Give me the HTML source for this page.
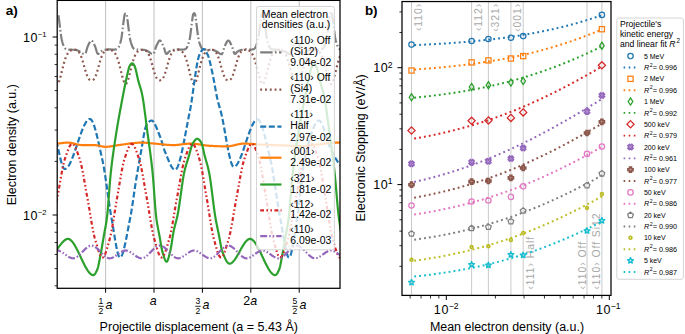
<!DOCTYPE html>
<html><head><meta charset="utf-8"><style>
html,body{margin:0;padding:0;background:#fff;}
body{width:685px;height:334px;overflow:hidden;position:relative;font-family:"Liberation Sans", sans-serif;}
</style></head><body>
<svg width="685" height="334" viewBox="0 0 685 334" style="position:absolute;left:0;top:0">
<defs><clipPath id="ca"><rect x="57.20" y="0.40" width="282.80" height="287.90"/></clipPath>
<clipPath id="cb"><rect x="402.00" y="1.55" width="209.00" height="293.85"/></clipPath></defs>
<line x1="105.60" y1="0.40" x2="105.60" y2="288.30" stroke="#b8b8b8" stroke-width="0.9"/>
<line x1="154.00" y1="0.40" x2="154.00" y2="288.30" stroke="#b8b8b8" stroke-width="0.9"/>
<line x1="202.40" y1="0.40" x2="202.40" y2="288.30" stroke="#b8b8b8" stroke-width="0.9"/>
<line x1="250.80" y1="0.40" x2="250.80" y2="288.30" stroke="#b8b8b8" stroke-width="0.9"/>
<line x1="299.20" y1="0.40" x2="299.20" y2="288.30" stroke="#b8b8b8" stroke-width="0.9"/>
<g clip-path="url(#ca)">
<path d="M54.20 29.00L54.60 25.76L55.00 22.50L55.40 19.50L55.80 16.50L56.20 14.60L56.60 13.78L57.00 13.27L57.40 13.27L57.80 13.78L58.20 14.60L58.60 16.50L59.00 19.50L59.40 22.50L59.80 25.76L60.20 29.00L60.60 32.22L61.00 35.36L61.40 37.90L61.80 39.81L62.20 41.45L62.60 42.87L63.00 44.11L63.40 45.24L63.80 46.29L64.20 47.20L64.60 47.88L65.00 48.33L65.40 48.73L65.80 49.04L66.20 49.25L66.60 49.33L67.00 49.39L67.40 49.45L67.80 49.49L68.20 49.53L68.60 49.57L69.00 49.59L69.40 49.62L69.80 49.64L70.20 49.66L70.60 49.68L71.00 49.69L71.40 49.71L71.80 49.72L72.20 49.73L72.60 49.74L73.00 49.74L73.40 49.75L73.80 49.76L74.20 49.77L74.60 49.78L75.00 49.79L75.40 49.81L75.80 49.87L76.20 49.97L76.60 50.09L77.00 50.23L77.40 50.40L77.80 50.57L78.20 50.75L78.60 50.94L79.00 51.11L79.40 51.29L79.80 51.50L80.20 51.74L80.60 52.00L81.00 52.28L81.40 52.56L81.80 52.85L82.20 53.13L82.60 53.39L83.00 53.63L83.40 53.84L83.80 54.01L84.20 54.13L84.60 54.19L85.00 54.13L85.40 53.58L85.80 52.62L86.20 51.38L86.60 49.99L87.00 48.57L87.40 47.27L87.80 46.21L88.20 45.39L88.60 44.54L89.00 43.69L89.40 42.86L89.80 42.11L90.20 41.46L90.60 40.95L91.00 40.62L91.40 40.50L91.80 40.62L92.20 40.95L92.60 41.47L93.00 42.12L93.40 42.87L93.80 43.70L94.20 44.55L94.60 45.39L95.00 46.21L95.40 47.25L95.80 48.52L96.20 49.90L96.60 51.26L97.00 52.47L97.40 53.40L97.80 53.93L98.20 53.97L98.60 53.74L99.00 53.36L99.40 52.88L99.80 52.38L100.20 51.92L100.60 51.56L101.00 51.33L101.40 51.11L101.80 50.91L102.20 50.72L102.60 50.54L103.00 50.38L103.40 50.24L103.80 50.11L104.20 50.00L104.60 49.92L105.00 49.85L105.40 49.78L105.80 49.71L106.20 49.65L106.60 49.60L107.00 49.54L107.40 49.50L107.80 49.46L108.20 49.43L108.60 49.41L109.00 49.40L109.40 49.40L109.80 49.41L110.20 49.43L110.60 49.46L111.00 49.49L111.40 49.51L111.80 49.54L112.20 49.57L112.60 49.59L113.00 49.60L113.40 49.60L113.80 49.59L114.20 49.57L114.60 49.54L115.00 49.51L115.40 49.46L115.80 49.41L116.20 49.34L116.60 49.26L117.00 49.07L117.40 48.77L117.80 48.39L118.20 47.94L118.60 47.30L119.00 46.42L119.40 45.38L119.80 44.26L120.20 43.04L120.60 41.64L121.00 40.03L121.40 38.15L121.80 35.72L122.20 32.63L122.60 29.39L123.00 26.17L123.40 22.89L123.80 19.88L124.20 16.84L124.60 14.73L125.00 13.87L125.40 13.31L125.80 13.24L126.20 13.69L126.60 14.49L127.00 16.18L127.40 19.11L127.80 22.11L128.20 25.34L128.60 28.61L129.00 31.81L129.40 34.99L129.80 37.63L130.20 39.59L130.60 41.26L131.00 42.71L131.40 43.97L131.80 45.10L132.20 46.17L132.60 47.10L133.00 47.81L133.40 48.28L133.80 48.68L134.20 49.01L134.60 49.23L135.00 49.33L135.40 49.39L135.80 49.44L136.20 49.49L136.60 49.53L137.00 49.56L137.40 49.59L137.80 49.62L138.20 49.64L138.60 49.66L139.00 49.67L139.40 49.69L139.80 49.71L140.20 49.72L140.60 49.73L141.00 49.73L141.40 49.74L141.80 49.75L142.20 49.76L142.60 49.76L143.00 49.78L143.40 49.79L143.80 49.81L144.20 49.86L144.60 49.95L145.00 50.07L145.40 50.22L145.80 50.38L146.20 50.55L146.60 50.73L147.00 50.91L147.40 51.09L147.80 51.27L148.20 51.47L148.60 51.70L149.00 51.96L149.40 52.24L149.80 52.53L150.20 52.82L150.60 53.10L151.00 53.36L151.40 53.61L151.80 53.82L152.20 53.99L152.60 54.12L153.00 54.19L153.40 54.16L153.80 53.68L154.20 52.76L154.60 51.55L155.00 50.16L155.40 48.74L155.80 47.42L156.20 46.32L156.60 45.49L157.00 44.65L157.40 43.79L157.80 42.96L158.20 42.20L158.60 41.53L159.00 41.01L159.40 40.65L159.80 40.50L160.20 40.59L160.60 40.90L161.00 41.39L161.40 42.03L161.80 42.77L162.20 43.59L162.60 44.44L163.00 45.29L163.40 46.10L163.80 47.10L164.20 48.35L164.60 49.73L165.00 51.10L165.40 52.33L165.80 53.30L166.20 53.89L166.60 53.98L167.00 53.78L167.40 53.41L167.80 52.94L168.20 52.44L168.60 51.97L169.00 51.60L169.40 51.36L169.80 51.14L170.20 50.94L170.60 50.74L171.00 50.56L171.40 50.40L171.80 50.25L172.20 50.13L172.60 50.02L173.00 49.93L173.40 49.86L173.80 49.79L174.20 49.72L174.60 49.66L175.00 49.60L175.40 49.55L175.80 49.51L176.20 49.47L176.60 49.44L177.00 49.41L177.40 49.40L177.80 49.40L178.20 49.41L178.60 49.43L179.00 49.45L179.40 49.48L179.80 49.51L180.20 49.54L180.60 49.57L181.00 49.59L181.40 49.60L181.80 49.60L182.20 49.59L182.60 49.57L183.00 49.55L183.40 49.51L183.80 49.47L184.20 49.41L184.60 49.35L185.00 49.28L185.40 49.10L185.80 48.81L186.20 48.44L186.60 48.00L187.00 47.39L187.40 46.54L187.80 45.51L188.20 44.40L188.60 43.20L189.00 41.83L189.40 40.24L189.80 38.40L190.20 36.08L190.60 33.03L191.00 29.78L191.40 26.59L191.80 23.29L192.20 20.27L192.60 17.20L193.00 14.90L193.40 13.96L193.80 13.36L194.20 13.22L194.60 13.61L195.00 14.37L195.40 15.87L195.80 18.72L196.20 21.73L196.60 24.93L197.00 28.22L197.40 31.40L197.80 34.61L198.20 37.35L198.60 39.36L199.00 41.06L199.40 42.54L199.80 43.82L200.20 44.96L200.60 46.04L201.00 46.99L201.40 47.73L201.80 48.22L202.20 48.64L202.60 48.97L203.00 49.21L203.40 49.32L203.80 49.38L204.20 49.43L204.60 49.48L205.00 49.52L205.40 49.56L205.80 49.59L206.20 49.61L206.60 49.64L207.00 49.66L207.40 49.67L207.80 49.69L208.20 49.70L208.60 49.72L209.00 49.73L209.40 49.73L209.80 49.74L210.20 49.75L210.60 49.75L211.00 49.76L211.40 49.77L211.80 49.79L212.20 49.81L212.60 49.86L213.00 49.94L213.40 50.06L213.80 50.20L214.20 50.36L214.60 50.53L215.00 50.71L215.40 50.89L215.80 51.07L216.20 51.24L216.60 51.44L217.00 51.67L217.40 51.93L217.80 52.21L218.20 52.49L218.60 52.78L219.00 53.06L219.40 53.33L219.80 53.58L220.20 53.79L220.60 53.97L221.00 54.10L221.40 54.18L221.80 54.18L222.20 53.76L222.60 52.90L223.00 51.71L223.40 50.34L223.80 48.92L224.20 47.58L224.60 46.44L225.00 45.60L225.40 44.75L225.80 43.90L226.20 43.07L226.60 42.29L227.00 41.61L227.40 41.06L227.80 40.68L228.20 40.51L228.60 40.57L229.00 40.85L229.40 41.32L229.80 41.94L230.20 42.68L230.60 43.49L231.00 44.33L231.40 45.18L231.80 46.00L232.20 46.96L232.60 48.19L233.00 49.55L233.40 50.93L233.80 52.19L234.20 53.20L234.60 53.84L235.00 53.99L235.40 53.82L235.80 53.47L236.20 53.01L236.60 52.50L237.00 52.02L237.40 51.64L237.80 51.39L238.20 51.17L238.60 50.96L239.00 50.77L239.40 50.59L239.80 50.42L240.20 50.27L240.60 50.14L241.00 50.03L241.40 49.94L241.80 49.87L242.20 49.80L242.60 49.73L243.00 49.67L243.40 49.61L243.80 49.56L244.20 49.51L244.60 49.47L245.00 49.44L245.40 49.42L245.80 49.40L246.20 49.40L246.60 49.41L247.00 49.43L247.40 49.45L247.80 49.48L248.20 49.51L248.60 49.54L249.00 49.56L249.40 49.58L249.80 49.60L250.20 49.60L250.60 49.59L251.00 49.58L251.40 49.55L251.80 49.52L252.20 49.47L252.60 49.42L253.00 49.36L253.40 49.29L253.80 49.13L254.20 48.86L254.60 48.49L255.00 48.06L255.40 47.48L255.80 46.65L256.20 45.65L256.60 44.54L257.00 43.36L257.40 42.01L257.80 40.45L258.20 38.65L258.60 36.41L259.00 33.44L259.40 30.18L259.80 27.00L260.20 23.69L260.60 20.64L261.00 17.57L261.40 15.10L261.80 14.06L262.20 13.41L262.60 13.20L263.00 13.54L263.40 14.27L263.80 15.59L264.20 18.33L264.60 21.36L265.00 24.51L265.40 27.81L265.80 30.99L266.20 34.23L266.60 37.05L267.00 39.13L267.40 40.86L267.80 42.36L268.20 43.67L268.60 44.82L269.00 45.91L269.40 46.88L269.80 47.65L270.20 48.17L270.60 48.59L271.00 48.94L271.40 49.18L271.80 49.31L272.20 49.37L272.60 49.43L273.00 49.48L273.40 49.52L273.80 49.55L274.20 49.58L274.60 49.61L275.00 49.63L275.40 49.65L275.80 49.67L276.20 49.69L276.60 49.70L277.00 49.71L277.40 49.72L277.80 49.73L278.20 49.74L278.60 49.75L279.00 49.75L279.40 49.76L279.80 49.77L280.20 49.79L280.60 49.80L281.00 49.85L281.40 49.93L281.80 50.04L282.20 50.18L282.60 50.33L283.00 50.51L283.40 50.69L283.80 50.87L284.20 51.05L284.60 51.22L285.00 51.41L285.40 51.64L285.80 51.90L286.20 52.17L286.60 52.46L287.00 52.74L287.40 53.03L287.80 53.30L288.20 53.55L288.60 53.77L289.00 53.95L289.40 54.09L289.80 54.17L290.20 54.20L290.60 53.84L291.00 53.02L291.40 51.87L291.80 50.52L292.20 49.09L292.60 47.73L293.00 46.57L293.40 45.70L293.80 44.86L294.20 44.00L294.60 43.17L295.00 42.38L295.40 41.69L295.80 41.12L296.20 40.72L296.60 40.52L297.00 40.55L297.40 40.81L297.80 41.26L298.20 41.86L298.60 42.58L299.00 43.38L299.40 44.23L299.80 45.08L300.20 45.90L300.60 46.82L301.00 48.02L301.40 49.38L301.80 50.76L302.20 52.04L302.60 53.09L303.00 53.79L303.40 54.00L303.80 53.85L304.20 53.52L304.60 53.07L305.00 52.57L305.40 52.08L305.80 51.68L306.20 51.41L306.60 51.19L307.00 50.99L307.40 50.79L307.80 50.61L308.20 50.44L308.60 50.29L309.00 50.16L309.40 50.04L309.80 49.95L310.20 49.87L310.60 49.80L311.00 49.74L311.40 49.68L311.80 49.62L312.20 49.56L312.60 49.52L313.00 49.48L313.40 49.44L313.80 49.42L314.20 49.40L314.60 49.40L315.00 49.41L315.40 49.42L315.80 49.45L316.20 49.47L316.60 49.50L317.00 49.53L317.40 49.56L317.80 49.58L318.20 49.60L318.60 49.60L319.00 49.59L319.40 49.58L319.80 49.55L320.20 49.52L320.60 49.48L321.00 49.43L321.40 49.37L321.80 49.30L322.20 49.16L322.60 48.90L323.00 48.54L323.40 48.11L323.80 47.57L324.20 46.77L324.60 45.78L325.00 44.68L325.40 43.51L325.80 42.19L326.20 40.66L326.60 38.89L327.00 36.74L327.40 33.83L327.80 30.59L328.20 27.41L328.60 24.10L329.00 21.00L329.40 17.94L329.80 15.33L330.20 14.16L330.60 13.47L331.00 13.20L331.40 13.47L331.80 14.16L332.20 15.33L332.60 17.94L333.00 21.00L333.40 24.10L333.80 27.41L334.20 30.59L334.60 33.83L335.00 36.74L335.40 38.89L335.80 40.66L336.20 42.19L336.60 43.51L337.00 44.68L337.40 45.78L337.80 46.77L338.20 47.57L338.60 48.11L339.00 48.54L339.40 48.90L339.80 49.16L340.20 49.30L340.60 49.36L341.00 49.42L341.40 49.47L341.80 49.51L342.20 49.55L342.60 49.58L343.00 49.61" fill="none" stroke="#7f7f7f" stroke-width="2.20" stroke-linecap="butt" stroke-linejoin="round" stroke-dasharray="12.4 2.4 1.6 2.4"/>
<path d="M54.20 77.86L54.60 79.32L55.00 80.56L55.40 81.48L55.80 82.33L56.20 83.11L56.60 83.71L57.00 84.05L57.40 84.05L57.80 83.71L58.20 83.11L58.60 82.33L59.00 81.48L59.40 80.56L59.80 79.32L60.20 77.86L60.60 76.34L61.00 74.82L61.40 73.20L61.80 71.54L62.20 69.91L62.60 68.30L63.00 66.69L63.40 65.13L63.80 63.66L64.20 62.24L64.60 60.89L65.00 59.62L65.40 58.47L65.80 57.39L66.20 56.40L66.60 55.50L67.00 54.71L67.40 53.98L67.80 53.33L68.20 52.77L68.60 52.27L69.00 51.83L69.40 51.45L69.80 51.13L70.20 50.85L70.60 50.61L71.00 50.41L71.40 50.25L71.80 50.10L72.20 49.96L72.60 49.85L73.00 49.79L73.40 49.78L73.80 49.78L74.20 49.78L74.60 49.79L75.00 49.79L75.40 49.79L75.80 49.84L76.20 49.97L76.60 50.16L77.00 50.38L77.40 50.62L77.80 50.91L78.20 51.28L78.60 51.72L79.00 52.22L79.40 52.80L79.80 53.49L80.20 54.26L80.60 55.10L81.00 56.06L81.40 57.12L81.80 58.25L82.20 59.45L82.60 60.75L83.00 62.11L83.40 63.49L83.80 64.91L84.20 66.37L84.60 67.82L85.00 69.22L85.40 70.60L85.80 71.95L86.20 73.22L86.60 74.37L87.00 75.45L87.40 76.46L87.80 77.32L88.20 78.03L88.60 78.70L89.00 79.25L89.40 79.61L89.80 79.82L90.20 80.01L90.60 80.16L91.00 80.26L91.40 80.30L91.80 80.27L92.20 80.18L92.60 80.03L93.00 79.85L93.40 79.64L93.80 79.31L94.20 78.78L94.60 78.12L95.00 77.41L95.40 76.57L95.80 75.59L96.20 74.50L96.60 73.37L97.00 72.12L97.40 70.77L97.80 69.39L98.20 68.00L98.60 66.55L99.00 65.09L99.40 63.67L99.80 62.28L100.20 60.91L100.60 59.61L101.00 58.40L101.40 57.26L101.80 56.19L102.20 55.21L102.60 54.36L103.00 53.58L103.40 52.88L103.80 52.28L104.20 51.78L104.60 51.33L105.00 50.95L105.40 50.65L105.80 50.41L106.20 50.18L106.60 49.99L107.00 49.85L107.40 49.80L107.80 49.79L108.20 49.79L108.60 49.78L109.00 49.78L109.40 49.78L109.80 49.79L110.20 49.84L110.60 49.94L111.00 50.08L111.40 50.23L111.80 50.39L112.20 50.58L112.60 50.82L113.00 51.10L113.40 51.41L113.80 51.78L114.20 52.22L114.60 52.70L115.00 53.25L115.40 53.90L115.80 54.61L116.20 55.40L116.60 56.28L117.00 57.27L117.40 58.33L117.80 59.47L118.20 60.72L118.60 62.07L119.00 63.48L119.40 64.94L119.80 66.49L120.20 68.10L120.60 69.71L121.00 71.34L121.40 73.00L121.80 74.62L122.20 76.15L122.60 77.67L123.00 79.15L123.40 80.42L123.80 81.37L124.20 82.23L124.60 83.02L125.00 83.65L125.40 84.03L125.80 84.07L126.20 83.77L126.60 83.19L127.00 82.44L127.40 81.58L127.80 80.69L128.20 79.49L128.60 78.05L129.00 76.53L129.40 75.02L129.80 73.41L130.20 71.75L130.60 70.11L131.00 68.51L131.40 66.89L131.80 65.32L132.20 63.84L132.60 62.41L133.00 61.05L133.40 59.77L133.80 58.61L134.20 57.53L134.60 56.52L135.00 55.61L135.40 54.81L135.80 54.07L136.20 53.41L136.60 52.83L137.00 52.33L137.40 51.89L137.80 51.50L138.20 51.17L138.60 50.89L139.00 50.64L139.40 50.43L139.80 50.27L140.20 50.12L140.60 49.98L141.00 49.86L141.40 49.80L141.80 49.78L142.20 49.78L142.60 49.78L143.00 49.79L143.40 49.79L143.80 49.79L144.20 49.83L144.60 49.95L145.00 50.13L145.40 50.35L145.80 50.59L146.20 50.87L146.60 51.23L147.00 51.66L147.40 52.15L147.80 52.72L148.20 53.40L148.60 54.16L149.00 54.99L149.40 55.93L149.80 56.99L150.20 58.11L150.60 59.29L151.00 60.58L151.40 61.94L151.80 63.32L152.20 64.73L152.60 66.18L153.00 67.64L153.40 69.05L153.80 70.43L154.20 71.79L154.60 73.07L155.00 74.23L155.40 75.32L155.80 76.34L156.20 77.22L156.60 77.95L157.00 78.62L157.40 79.19L157.80 79.58L158.20 79.80L158.60 79.99L159.00 80.15L159.40 80.25L159.80 80.30L160.20 80.28L160.60 80.19L161.00 80.05L161.40 79.87L161.80 79.67L162.20 79.36L162.60 78.85L163.00 78.21L163.40 77.51L163.80 76.69L164.20 75.72L164.60 74.64L165.00 73.52L165.40 72.28L165.80 70.94L166.20 69.56L166.60 68.18L167.00 66.73L167.40 65.27L167.80 63.84L168.20 62.46L168.60 61.08L169.00 59.76L169.40 58.54L169.80 57.40L170.20 56.32L170.60 55.33L171.00 54.47L171.40 53.68L171.80 52.97L172.20 52.35L172.60 51.84L173.00 51.39L173.40 50.99L173.80 50.69L174.20 50.44L174.60 50.21L175.00 50.01L175.40 49.87L175.80 49.80L176.20 49.79L176.60 49.79L177.00 49.79L177.40 49.78L177.80 49.78L178.20 49.78L178.60 49.83L179.00 49.93L179.40 50.06L179.80 50.21L180.20 50.37L180.60 50.56L181.00 50.79L181.40 51.06L181.80 51.37L182.20 51.73L182.60 52.16L183.00 52.64L183.40 53.18L183.80 53.81L184.20 54.52L184.60 55.30L185.00 56.16L185.40 57.14L185.80 58.20L186.20 59.32L186.60 60.56L187.00 61.89L187.40 63.30L187.80 64.75L188.20 66.30L188.60 67.90L189.00 69.51L189.40 71.13L189.80 72.79L190.20 74.43L190.60 75.97L191.00 77.48L191.40 78.97L191.80 80.28L192.20 81.26L192.60 82.12L193.00 82.93L193.40 83.58L193.80 84.00L194.20 84.09L194.60 83.82L195.00 83.28L195.40 82.54L195.80 81.69L196.20 80.81L196.60 79.66L197.00 78.24L197.40 76.72L197.80 75.21L198.20 73.61L198.60 71.96L199.00 70.31L199.40 68.71L199.80 67.09L200.20 65.51L200.60 64.02L201.00 62.59L201.40 61.22L201.80 59.93L202.20 58.75L202.60 57.66L203.00 56.64L203.40 55.72L203.80 54.90L204.20 54.16L204.60 53.48L205.00 52.90L205.40 52.39L205.80 51.94L206.20 51.54L206.60 51.21L207.00 50.92L207.40 50.67L207.80 50.46L208.20 50.29L208.60 50.14L209.00 49.99L209.40 49.88L209.80 49.80L210.20 49.78L210.60 49.78L211.00 49.78L211.40 49.79L211.80 49.79L212.20 49.79L212.60 49.82L213.00 49.93L213.40 50.11L213.80 50.32L214.20 50.56L214.60 50.83L215.00 51.18L215.40 51.61L215.80 52.09L216.20 52.65L216.60 53.31L217.00 54.06L217.40 54.88L217.80 55.81L218.20 56.85L218.60 57.97L219.00 59.14L219.40 60.41L219.80 61.77L220.20 63.15L220.60 64.55L221.00 66.00L221.40 67.46L221.80 68.88L222.20 70.26L222.60 71.62L223.00 72.91L223.40 74.09L223.80 75.19L224.20 76.22L224.60 77.12L225.00 77.86L225.40 78.54L225.80 79.13L226.20 79.54L226.60 79.77L227.00 79.97L227.40 80.13L227.80 80.24L228.20 80.30L228.60 80.28L229.00 80.21L229.40 80.07L229.80 79.90L230.20 79.69L230.60 79.41L231.00 78.92L231.40 78.29L231.80 77.59L232.20 76.80L232.60 75.84L233.00 74.78L233.40 73.66L233.80 72.44L234.20 71.11L234.60 69.74L235.00 68.35L235.40 66.91L235.80 65.45L236.20 64.01L236.60 62.63L237.00 61.25L237.40 59.92L237.80 58.69L238.20 57.54L238.60 56.45L239.00 55.45L239.40 54.57L239.80 53.77L240.20 53.05L240.60 52.42L241.00 51.90L241.40 51.44L241.80 51.04L242.20 50.72L242.60 50.47L243.00 50.24L243.40 50.03L243.80 49.88L244.20 49.80L244.60 49.79L245.00 49.79L245.40 49.79L245.80 49.78L246.20 49.78L246.60 49.78L247.00 49.82L247.40 49.92L247.80 50.04L248.20 50.19L248.60 50.35L249.00 50.53L249.40 50.76L249.80 51.02L250.20 51.32L250.60 51.68L251.00 52.10L251.40 52.58L251.80 53.11L252.20 53.73L252.60 54.43L253.00 55.20L253.40 56.05L253.80 57.01L254.20 58.06L254.60 59.18L255.00 60.40L255.40 61.72L255.80 63.12L256.20 64.56L256.60 66.10L257.00 67.70L257.40 69.31L257.80 70.93L258.20 72.58L258.60 74.22L259.00 75.78L259.40 77.29L259.80 78.79L260.20 80.13L260.60 81.15L261.00 82.02L261.40 82.83L261.80 83.51L262.20 83.96L262.60 84.10L263.00 83.87L263.40 83.36L263.80 82.64L264.20 81.80L264.60 80.93L265.00 79.82L265.40 78.43L265.80 76.91L266.20 75.40L266.60 73.82L267.00 72.17L267.40 70.52L267.80 68.91L268.20 67.29L268.60 65.71L269.00 64.20L269.40 62.77L269.80 61.38L270.20 60.08L270.60 58.89L271.00 57.79L271.40 56.76L271.80 55.82L272.20 55.00L272.60 54.25L273.00 53.56L273.40 52.97L273.80 52.45L274.20 51.99L274.60 51.59L275.00 51.24L275.40 50.96L275.80 50.70L276.20 50.48L276.60 50.31L277.00 50.16L277.40 50.01L277.80 49.89L278.20 49.81L278.60 49.78L279.00 49.78L279.40 49.78L279.80 49.79L280.20 49.79L280.60 49.79L281.00 49.81L281.40 49.91L281.80 50.08L282.20 50.29L282.60 50.53L283.00 50.79L283.40 51.13L283.80 51.55L284.20 52.03L284.60 52.57L285.00 53.22L285.40 53.97L285.80 54.78L286.20 55.69L286.60 56.71L287.00 57.82L287.40 58.99L287.80 60.25L288.20 61.59L288.60 62.98L289.00 64.37L289.40 65.82L289.80 67.28L290.20 68.70L290.60 70.08L291.00 71.45L291.40 72.76L291.80 73.95L292.20 75.05L292.60 76.10L293.00 77.02L293.40 77.77L293.80 78.46L294.20 79.06L294.60 79.50L295.00 79.75L295.40 79.95L295.80 80.11L296.20 80.23L296.60 80.29L297.00 80.29L297.40 80.22L297.80 80.09L298.20 79.92L298.60 79.72L299.00 79.46L299.40 78.99L299.80 78.38L300.20 77.68L300.60 76.91L301.00 75.97L301.40 74.92L301.80 73.81L302.20 72.60L302.60 71.28L303.00 69.91L303.40 68.53L303.80 67.10L304.20 65.63L304.60 64.19L305.00 62.80L305.40 61.42L305.80 60.09L306.20 58.84L306.60 57.68L307.00 56.58L307.40 55.57L307.80 54.67L308.20 53.87L308.60 53.14L309.00 52.50L309.40 51.96L309.80 51.49L310.20 51.09L310.60 50.75L311.00 50.50L311.40 50.27L311.80 50.06L312.20 49.90L312.60 49.81L313.00 49.79L313.40 49.79L313.80 49.79L314.20 49.78L314.60 49.78L315.00 49.78L315.40 49.81L315.80 49.90L316.20 50.03L316.60 50.17L317.00 50.33L317.40 50.51L317.80 50.73L318.20 50.99L318.60 51.28L319.00 51.63L319.40 52.05L319.80 52.51L320.20 53.04L320.60 53.65L321.00 54.34L321.40 55.10L321.80 55.94L322.20 56.88L322.60 57.93L323.00 59.04L323.40 60.24L323.80 61.55L324.20 62.94L324.60 64.38L325.00 65.90L325.40 67.50L325.80 69.11L326.20 70.72L326.60 72.37L327.00 74.02L327.40 75.59L327.80 77.10L328.20 78.61L328.60 79.98L329.00 81.04L329.40 81.91L329.80 82.74L330.20 83.44L330.60 83.92L331.00 84.10L331.40 83.92L331.80 83.44L332.20 82.74L332.60 81.91L333.00 81.04L333.40 79.98L333.80 78.61L334.20 77.10L334.60 75.59L335.00 74.02L335.40 72.37L335.80 70.72L336.20 69.11L336.60 67.50L337.00 65.90L337.40 64.38L337.80 62.94L338.20 61.55L338.60 60.24L339.00 59.04L339.40 57.93L339.80 56.88L340.20 55.94L340.60 55.10L341.00 54.34L341.40 53.65L341.80 53.04L342.20 52.51L342.60 52.05L343.00 51.63" fill="none" stroke="#8c564b" stroke-width="2.20" stroke-linecap="butt" stroke-linejoin="round" stroke-dasharray="1.9 2.9"/>
<path d="M54.20 132.43L54.60 133.63L55.00 134.96L55.40 136.41L55.80 137.96L56.20 139.60L56.60 141.32L57.00 143.09L57.40 144.92L57.80 146.77L58.20 148.63L58.60 150.50L59.00 152.36L59.40 154.19L59.80 155.98L60.20 157.72L60.60 159.38L61.00 160.96L61.40 162.44L61.80 163.81L62.20 165.05L62.60 166.15L63.00 167.09L63.40 167.86L63.80 168.44L64.20 168.82L64.60 168.99L65.00 168.98L65.40 168.89L65.80 168.72L66.20 168.49L66.60 168.19L67.00 167.83L67.40 167.40L67.80 166.92L68.20 166.37L68.60 165.78L69.00 165.13L69.40 164.43L69.80 163.69L70.20 162.89L70.60 162.06L71.00 161.19L71.40 160.28L71.80 159.33L72.20 158.35L72.60 157.34L73.00 156.30L73.40 155.24L73.80 154.15L74.20 153.04L74.60 151.91L75.00 150.77L75.40 149.61L75.80 148.44L76.20 147.27L76.60 146.08L77.00 144.89L77.40 143.70L77.80 142.51L78.20 141.33L78.60 140.14L79.00 138.97L79.40 137.81L79.80 136.66L80.20 135.52L80.60 134.40L81.00 133.30L81.40 132.23L81.80 131.18L82.20 130.15L82.60 129.16L83.00 128.19L83.40 127.26L83.80 126.37L84.20 125.52L84.60 124.70L85.00 123.94L85.40 123.21L85.80 122.54L86.20 121.92L86.60 121.35L87.00 120.83L87.40 120.38L87.80 119.98L88.20 119.65L88.60 119.39L89.00 119.19L89.40 119.06L89.80 119.00L90.20 119.04L90.60 119.21L91.00 119.51L91.40 119.93L91.80 120.47L92.20 121.13L92.60 121.90L93.00 122.77L93.40 123.73L93.80 124.80L94.20 125.94L94.60 127.17L95.00 128.48L95.40 129.86L95.80 131.30L96.20 132.81L96.60 134.37L97.00 135.98L97.40 137.64L97.80 139.34L98.20 141.07L98.60 142.83L99.00 144.61L99.40 146.42L99.80 148.23L100.20 150.06L100.60 151.88L101.00 153.71L101.40 155.53L101.80 157.33L102.20 159.12L102.60 160.90L103.00 162.83L103.40 164.91L103.80 167.13L104.20 169.48L104.60 171.94L105.00 174.50L105.40 177.14L105.80 179.85L106.20 182.61L106.60 185.42L107.00 188.26L107.40 191.12L107.80 193.97L108.20 196.82L108.60 199.63L109.00 202.41L109.40 205.13L109.80 207.79L110.20 210.36L110.60 212.84L111.00 215.21L111.40 217.46L111.80 219.64L112.20 221.92L112.60 224.29L113.00 226.71L113.40 229.18L113.80 231.68L114.20 234.17L114.60 236.64L115.00 239.07L115.40 241.44L115.80 243.73L116.20 245.92L116.60 247.97L117.00 249.89L117.40 251.64L117.80 253.20L118.20 254.55L118.60 255.67L119.00 256.55L119.40 257.15L119.80 257.46L120.20 257.47L120.60 257.27L121.00 256.87L121.40 256.29L121.80 255.54L122.20 254.62L122.60 253.55L123.00 252.34L123.40 251.00L123.80 249.53L124.20 247.96L124.60 246.28L125.00 244.51L125.40 242.66L125.80 240.75L126.20 238.77L126.60 236.74L127.00 234.68L127.40 232.59L127.80 230.47L128.20 228.35L128.60 226.24L129.00 224.13L129.40 222.05L129.80 220.00L130.20 218.00L130.60 215.93L131.00 213.70L131.40 211.33L131.80 208.84L132.20 206.25L132.60 203.57L133.00 200.84L133.40 198.08L133.80 195.29L134.20 192.51L134.60 189.76L135.00 187.05L135.40 184.40L135.80 181.85L136.20 179.40L136.60 176.99L137.00 174.61L137.40 172.25L137.80 169.91L138.20 167.60L138.60 165.30L139.00 163.03L139.40 160.78L139.80 158.55L140.20 156.34L140.60 154.16L141.00 152.00L141.40 149.77L141.80 147.42L142.20 144.98L142.60 142.51L143.00 140.03L143.40 137.61L143.80 135.28L144.20 133.08L144.60 131.07L145.00 129.28L145.40 127.76L145.80 126.55L146.20 125.70L146.60 125.05L147.00 124.43L147.40 123.84L147.80 123.28L148.20 122.76L148.60 122.28L149.00 121.85L149.40 121.47L149.80 121.15L150.20 120.89L150.60 120.69L151.00 120.56L151.40 120.50L151.80 120.53L152.20 120.68L152.60 120.94L153.00 121.30L153.40 121.76L153.80 122.31L154.20 122.93L154.60 123.63L155.00 124.40L155.40 125.22L155.80 126.10L156.20 127.01L156.60 127.97L157.00 128.95L157.40 129.95L157.80 130.96L158.20 131.98L158.60 133.00L159.00 134.01L159.40 135.00L159.80 135.96L160.20 136.94L160.60 138.03L161.00 139.21L161.40 140.46L161.80 141.77L162.20 143.11L162.60 144.46L163.00 145.81L163.40 147.13L163.80 148.41L164.20 149.62L164.60 150.74L165.00 151.76L165.40 152.70L165.80 153.66L166.20 154.63L166.60 155.61L167.00 156.59L167.40 157.58L167.80 158.56L168.20 159.54L168.60 160.50L169.00 161.44L169.40 162.35L169.80 163.24L170.20 164.09L170.60 164.90L171.00 165.67L171.40 166.38L171.80 167.05L172.20 167.65L172.60 168.19L173.00 168.66L173.40 169.06L173.80 169.38L174.20 169.61L174.60 169.75L175.00 169.80L175.40 169.72L175.80 169.50L176.20 169.14L176.60 168.64L177.00 168.00L177.40 167.25L177.80 166.37L178.20 165.38L178.60 164.28L179.00 163.07L179.40 161.77L179.80 160.38L180.20 158.90L180.60 157.33L181.00 155.70L181.40 153.99L181.80 152.21L182.20 150.38L182.60 148.49L183.00 146.55L183.40 144.57L183.80 142.56L184.20 140.51L184.60 138.43L185.00 136.34L185.40 134.22L185.80 132.10L186.20 129.97L186.60 127.85L187.00 125.73L187.40 123.62L187.80 121.53L188.20 119.46L188.60 117.42L189.00 115.41L189.40 113.45L189.80 111.52L190.20 109.47L190.60 107.24L191.00 104.87L191.40 102.36L191.80 99.74L192.20 97.03L192.60 94.25L193.00 91.41L193.40 88.54L193.80 85.66L194.20 82.78L194.60 79.93L195.00 77.13L195.40 74.39L195.80 71.74L196.20 69.20L196.60 66.77L197.00 64.50L197.40 62.39L197.80 60.46L198.20 58.74L198.60 57.24L199.00 55.99L199.40 55.00L199.80 54.15L200.20 53.31L200.60 52.51L201.00 51.75L201.40 51.05L201.80 50.42L202.20 49.89L202.60 49.47L203.00 49.18L203.40 49.02L203.80 49.02L204.20 49.18L204.60 49.48L205.00 49.91L205.40 50.45L205.80 51.07L206.20 51.78L206.60 52.54L207.00 53.34L207.40 54.17L207.80 55.00L208.20 55.94L208.60 57.07L209.00 58.37L209.40 59.82L209.80 61.40L210.20 63.06L210.60 64.81L211.00 66.59L211.40 68.41L211.80 70.22L212.20 72.00L212.60 73.83L213.00 75.79L213.40 77.86L213.80 80.00L214.20 82.20L214.60 84.44L215.00 86.69L215.40 88.93L215.80 91.13L216.20 93.28L216.60 95.34L217.00 97.30L217.40 99.14L217.80 100.83L218.20 102.39L218.60 103.87L219.00 105.28L219.40 106.66L219.80 108.03L220.20 109.43L220.60 110.87L221.00 112.39L221.40 114.02L221.80 115.77L222.20 117.61L222.60 119.55L223.00 121.56L223.40 123.65L223.80 125.79L224.20 127.98L224.60 130.20L225.00 132.45L225.40 134.72L225.80 136.99L226.20 139.25L226.60 141.50L227.00 143.71L227.40 145.89L227.80 148.02L228.20 150.09L228.60 152.09L229.00 154.01L229.40 155.84L229.80 157.56L230.20 159.17L230.60 160.66L231.00 162.01L231.40 163.22L231.80 164.27L232.20 165.15L232.60 165.86L233.00 166.37L233.40 166.69L233.80 166.80L234.20 166.76L234.60 166.64L235.00 166.45L235.40 166.18L235.80 165.84L236.20 165.44L236.60 164.97L237.00 164.44L237.40 163.85L237.80 163.21L238.20 162.51L238.60 161.75L239.00 160.96L239.40 160.11L239.80 159.22L240.20 158.30L240.60 157.33L241.00 156.33L241.40 155.30L241.80 154.24L242.20 153.16L242.60 152.05L243.00 150.92L243.40 149.77L243.80 148.60L244.20 147.43L244.60 146.24L245.00 145.05L245.40 143.85L245.80 142.65L246.20 141.45L246.60 140.26L247.00 139.07L247.40 137.89L247.80 136.72L248.20 135.57L248.60 134.43L249.00 133.32L249.40 132.23L249.80 131.16L250.20 130.12L250.60 129.11L251.00 128.14L251.40 127.20L251.80 126.31L252.20 125.45L252.60 124.64L253.00 123.88L253.40 123.16L253.80 122.51L254.20 121.90L254.60 121.36L255.00 120.87L255.40 120.45L255.80 120.10L256.20 119.81L256.60 119.60L257.00 119.46L257.40 119.40L257.80 119.44L258.20 119.59L258.60 119.87L259.00 120.26L259.40 120.76L259.80 121.37L260.20 122.08L260.60 122.88L261.00 123.78L261.40 124.76L261.80 125.82L262.20 126.96L262.60 128.18L263.00 129.46L263.40 130.80L263.80 132.21L264.20 133.66L264.60 135.17L265.00 136.72L265.40 138.31L265.80 139.93L266.20 141.59L266.60 143.27L267.00 144.97L267.40 146.68L267.80 148.41L268.20 150.15L268.60 151.88L269.00 153.61L269.40 155.34L269.80 157.05L270.20 158.74L270.60 160.42L271.00 162.20L271.40 164.10L271.80 166.14L272.20 168.28L272.60 170.53L273.00 172.86L273.40 175.28L273.80 177.77L274.20 180.31L274.60 182.90L275.00 185.53L275.40 188.18L275.80 190.85L276.20 193.52L276.60 196.18L277.00 198.82L277.40 201.44L277.80 204.01L278.20 206.54L278.60 209.00L279.00 211.38L279.40 213.69L279.80 215.90L280.20 218.00L280.60 220.10L281.00 222.30L281.40 224.58L281.80 226.92L282.20 229.30L282.60 231.71L283.00 234.11L283.40 236.50L283.80 238.85L284.20 241.15L284.60 243.38L285.00 245.51L285.40 247.53L285.80 249.42L286.20 251.16L286.60 252.72L287.00 254.10L287.40 255.28L287.80 256.22L288.20 256.92L288.60 257.35L289.00 257.50L289.40 257.34L289.80 256.87L290.20 256.11L290.60 255.08L291.00 253.81L291.40 252.31L291.80 250.60L292.20 248.71L292.60 246.66L293.00 244.46L293.40 242.14L293.80 239.72L294.20 237.22L294.60 234.66L295.00 232.06L295.40 229.44L295.80 226.83L296.20 224.24L296.60 221.69L297.00 219.21L297.40 216.76L297.80 214.07L298.20 211.13L298.60 207.97L299.00 204.62L299.40 201.14L299.80 197.55L300.20 193.89L300.60 190.20L301.00 186.52L301.40 182.89L301.80 179.34L302.20 175.91L302.60 172.64L303.00 169.57L303.40 166.73L303.80 164.16L304.20 161.91L304.60 160.00L305.00 158.28L305.40 156.57L305.80 154.88L306.20 153.20L306.60 151.53L307.00 149.88L307.40 148.26L307.80 146.65L308.20 145.08L308.60 143.53L309.00 142.01L309.40 140.52L309.80 139.07L310.20 137.65L310.60 136.28L311.00 134.94L311.40 133.65L311.80 132.40L312.20 131.21L312.60 130.06L313.00 128.97L313.40 127.93L313.80 126.95L314.20 126.03L314.60 125.18L315.00 124.38L315.40 123.66L315.80 123.00L316.20 122.41L316.60 121.90L317.00 121.46L317.40 121.11L317.80 120.83L318.20 120.63L318.60 120.52L319.00 120.50L319.40 120.61L319.80 120.84L320.20 121.20L320.60 121.68L321.00 122.26L321.40 122.94L321.80 123.72L322.20 124.59L322.60 125.53L323.00 126.54L323.40 127.62L323.80 128.75L324.20 129.93L324.60 131.15L325.00 132.41L325.40 133.69L325.80 134.98L326.20 136.29L326.60 137.60L327.00 138.91L327.40 140.20L327.80 141.47L328.20 142.71L328.60 143.92L329.00 145.09L329.40 146.20L329.80 147.26L330.20 148.25L330.60 149.16L331.00 150.00L331.40 150.79L331.80 151.57L332.20 152.34L332.60 153.10L333.00 153.85L333.40 154.59L333.80 155.32L334.20 156.03L334.60 156.73L335.00 157.42L335.40 158.10L335.80 158.75L336.20 159.40L336.60 160.03L337.00 160.64L337.40 161.23L337.80 161.81L338.20 162.36L338.60 162.90L339.00 163.43L339.40 163.95L339.80 164.46L340.20 164.96L340.60 165.44L341.00 165.91L341.40 166.37L341.80 166.81L342.20 167.24L342.60 167.66L343.00 168.06" fill="none" stroke="#1f77b4" stroke-width="2.20" stroke-linecap="butt" stroke-linejoin="round" stroke-dasharray="6 2.6"/>
<path d="M54.20 143.79L54.60 143.77L55.00 143.74L55.40 143.72L55.80 143.69L56.20 143.67L56.60 143.64L57.00 143.61L57.40 143.59L57.80 143.55L58.20 143.52L58.60 143.48L59.00 143.44L59.40 143.39L59.80 143.34L60.20 143.30L60.60 143.25L61.00 143.20L61.40 143.14L61.80 143.09L62.20 143.04L62.60 142.99L63.00 142.94L63.40 142.89L63.80 142.85L64.20 142.81L64.60 142.77L65.00 142.73L65.40 142.70L65.80 142.67L66.20 142.64L66.60 142.62L67.00 142.61L67.40 142.60L67.80 142.60L68.20 142.61L68.60 142.63L69.00 142.65L69.40 142.69L69.80 142.74L70.20 142.79L70.60 142.85L71.00 142.92L71.40 142.99L71.80 143.07L72.20 143.15L72.60 143.24L73.00 143.33L73.40 143.43L73.80 143.52L74.20 143.62L74.60 143.72L75.00 143.82L75.40 143.93L75.80 144.03L76.20 144.13L76.60 144.22L77.00 144.32L77.40 144.41L77.80 144.50L78.20 144.59L78.60 144.67L79.00 144.75L79.40 144.82L79.80 144.88L80.20 144.94L80.60 144.99L81.00 145.03L81.40 145.06L81.80 145.08L82.20 145.10L82.60 145.10L83.00 145.10L83.40 145.10L83.80 145.10L84.20 145.10L84.60 145.10L85.00 145.10L85.40 145.10L85.80 145.10L86.20 145.10L86.60 145.10L87.00 145.10L87.40 145.10L87.80 145.10L88.20 145.10L88.60 145.10L89.00 145.10L89.40 145.10L89.80 145.10L90.20 145.10L90.60 145.10L91.00 145.10L91.40 145.10L91.80 145.10L92.20 145.10L92.60 145.10L93.00 145.10L93.40 145.10L93.80 145.10L94.20 145.10L94.60 145.11L95.00 145.12L95.40 145.15L95.80 145.19L96.20 145.23L96.60 145.29L97.00 145.35L97.40 145.42L97.80 145.49L98.20 145.57L98.60 145.65L99.00 145.73L99.40 145.82L99.80 145.91L100.20 145.99L100.60 146.08L101.00 146.17L101.40 146.25L101.80 146.33L102.20 146.41L102.60 146.48L103.00 146.55L103.40 146.61L103.80 146.67L104.20 146.71L104.60 146.75L105.00 146.78L105.40 146.79L105.80 146.80L106.20 146.80L106.60 146.79L107.00 146.77L107.40 146.75L107.80 146.72L108.20 146.69L108.60 146.65L109.00 146.60L109.40 146.56L109.80 146.50L110.20 146.45L110.60 146.39L111.00 146.33L111.40 146.27L111.80 146.20L112.20 146.13L112.60 146.06L113.00 145.99L113.40 145.92L113.80 145.85L114.20 145.78L114.60 145.71L115.00 145.64L115.40 145.57L115.80 145.50L116.20 145.43L116.60 145.37L117.00 145.31L117.40 145.25L117.80 145.19L118.20 145.14L118.60 145.09L119.00 145.04L119.40 144.99L119.80 144.94L120.20 144.89L120.60 144.83L121.00 144.78L121.40 144.73L121.80 144.67L122.20 144.62L122.60 144.56L123.00 144.50L123.40 144.45L123.80 144.39L124.20 144.33L124.60 144.28L125.00 144.22L125.40 144.16L125.80 144.10L126.20 144.05L126.60 143.99L127.00 143.93L127.40 143.88L127.80 143.82L128.20 143.76L128.60 143.71L129.00 143.65L129.40 143.60L129.80 143.55L130.20 143.49L130.60 143.44L131.00 143.39L131.40 143.34L131.80 143.29L132.20 143.24L132.60 143.20L133.00 143.15L133.40 143.11L133.80 143.06L134.20 143.02L134.60 142.98L135.00 142.95L135.40 142.91L135.80 142.87L136.20 142.84L136.60 142.81L137.00 142.78L137.40 142.75L137.80 142.73L138.20 142.70L138.60 142.68L139.00 142.66L139.40 142.65L139.80 142.63L140.20 142.62L140.60 142.61L141.00 142.61L141.40 142.60L141.80 142.60L142.20 142.60L142.60 142.61L143.00 142.62L143.40 142.63L143.80 142.65L144.20 142.66L144.60 142.69L145.00 142.71L145.40 142.74L145.80 142.77L146.20 142.80L146.60 142.83L147.00 142.87L147.40 142.90L147.80 142.94L148.20 142.98L148.60 143.02L149.00 143.06L149.40 143.10L149.80 143.14L150.20 143.19L150.60 143.23L151.00 143.27L151.40 143.31L151.80 143.35L152.20 143.39L152.60 143.43L153.00 143.47L153.40 143.51L153.80 143.54L154.20 143.58L154.60 143.61L155.00 143.64L155.40 143.67L155.80 143.71L156.20 143.74L156.60 143.78L157.00 143.82L157.40 143.86L157.80 143.90L158.20 143.94L158.60 143.98L159.00 144.02L159.40 144.06L159.80 144.10L160.20 144.14L160.60 144.19L161.00 144.23L161.40 144.27L161.80 144.31L162.20 144.35L162.60 144.40L163.00 144.44L163.40 144.48L163.80 144.52L164.20 144.56L164.60 144.60L165.00 144.63L165.40 144.67L165.80 144.71L166.20 144.74L166.60 144.78L167.00 144.81L167.40 144.84L167.80 144.87L168.20 144.90L168.60 144.93L169.00 144.95L169.40 144.98L169.80 145.00L170.20 145.02L170.60 145.04L171.00 145.05L171.40 145.07L171.80 145.08L172.20 145.09L172.60 145.09L173.00 145.10L173.40 145.10L173.80 145.10L174.20 145.09L174.60 145.08L175.00 145.07L175.40 145.05L175.80 145.03L176.20 145.00L176.60 144.97L177.00 144.94L177.40 144.90L177.80 144.86L178.20 144.82L178.60 144.78L179.00 144.73L179.40 144.68L179.80 144.63L180.20 144.58L180.60 144.53L181.00 144.48L181.40 144.43L181.80 144.38L182.20 144.32L182.60 144.27L183.00 144.22L183.40 144.17L183.80 144.12L184.20 144.07L184.60 144.02L185.00 143.97L185.40 143.92L185.80 143.88L186.20 143.84L186.60 143.80L187.00 143.76L187.40 143.73L187.80 143.70L188.20 143.67L188.60 143.65L189.00 143.63L189.40 143.62L189.80 143.61L190.20 143.60L190.60 143.60L191.00 143.60L191.40 143.61L191.80 143.62L192.20 143.64L192.60 143.66L193.00 143.69L193.40 143.71L193.80 143.75L194.20 143.78L194.60 143.82L195.00 143.86L195.40 143.90L195.80 143.95L196.20 144.00L196.60 144.05L197.00 144.10L197.40 144.16L197.80 144.21L198.20 144.27L198.60 144.33L199.00 144.39L199.40 144.45L199.80 144.52L200.20 144.58L200.60 144.64L201.00 144.71L201.40 144.77L201.80 144.83L202.20 144.90L202.60 144.96L203.00 145.02L203.40 145.08L203.80 145.14L204.20 145.20L204.60 145.26L205.00 145.32L205.40 145.37L205.80 145.42L206.20 145.47L206.60 145.52L207.00 145.57L207.40 145.61L207.80 145.65L208.20 145.69L208.60 145.72L209.00 145.75L209.40 145.78L209.80 145.80L210.20 145.82L210.60 145.84L211.00 145.86L211.40 145.88L211.80 145.91L212.20 145.93L212.60 145.95L213.00 145.97L213.40 145.99L213.80 146.01L214.20 146.03L214.60 146.05L215.00 146.07L215.40 146.09L215.80 146.11L216.20 146.12L216.60 146.14L217.00 146.16L217.40 146.18L217.80 146.19L218.20 146.21L218.60 146.23L219.00 146.24L219.40 146.25L219.80 146.27L220.20 146.28L220.60 146.30L221.00 146.31L221.40 146.32L221.80 146.33L222.20 146.34L222.60 146.35L223.00 146.36L223.40 146.37L223.80 146.37L224.20 146.38L224.60 146.39L225.00 146.39L225.40 146.39L225.80 146.40L226.20 146.40L226.60 146.40L227.00 146.40L227.40 146.39L227.80 146.37L228.20 146.35L228.60 146.31L229.00 146.27L229.40 146.22L229.80 146.17L230.20 146.11L230.60 146.04L231.00 145.97L231.40 145.89L231.80 145.81L232.20 145.73L232.60 145.64L233.00 145.55L233.40 145.45L233.80 145.36L234.20 145.26L234.60 145.16L235.00 145.06L235.40 144.96L235.80 144.86L236.20 144.76L236.60 144.67L237.00 144.57L237.40 144.48L237.80 144.39L238.20 144.30L238.60 144.21L239.00 144.13L239.40 144.05L239.80 143.98L240.20 143.91L240.60 143.85L241.00 143.79L241.40 143.74L241.80 143.70L242.20 143.66L242.60 143.63L243.00 143.61L243.40 143.60L243.80 143.60L244.20 143.60L244.60 143.61L245.00 143.61L245.40 143.62L245.80 143.63L246.20 143.64L246.60 143.65L247.00 143.67L247.40 143.68L247.80 143.70L248.20 143.72L248.60 143.74L249.00 143.76L249.40 143.78L249.80 143.81L250.20 143.83L250.60 143.86L251.00 143.89L251.40 143.91L251.80 143.94L252.20 143.97L252.60 144.00L253.00 144.03L253.40 144.06L253.80 144.09L254.20 144.12L254.60 144.15L255.00 144.18L255.40 144.21L255.80 144.25L256.20 144.28L256.60 144.31L257.00 144.34L257.40 144.37L257.80 144.40L258.20 144.43L258.60 144.46L259.00 144.48L259.40 144.51L259.80 144.54L260.20 144.56L260.60 144.59L261.00 144.61L261.40 144.63L261.80 144.66L262.20 144.68L262.60 144.70L263.00 144.71L263.40 144.73L263.80 144.75L264.20 144.76L264.60 144.78L265.00 144.80L265.40 144.81L265.80 144.83L266.20 144.84L266.60 144.86L267.00 144.88L267.40 144.89L267.80 144.90L268.20 144.92L268.60 144.93L269.00 144.95L269.40 144.96L269.80 144.98L270.20 144.99L270.60 145.00L271.00 145.02L271.40 145.03L271.80 145.04L272.20 145.06L272.60 145.07L273.00 145.08L273.40 145.10L273.80 145.11L274.20 145.12L274.60 145.13L275.00 145.15L275.40 145.16L275.80 145.17L276.20 145.19L276.60 145.20L277.00 145.21L277.40 145.23L277.80 145.24L278.20 145.25L278.60 145.27L279.00 145.28L279.40 145.29L279.80 145.31L280.20 145.32L280.60 145.33L281.00 145.35L281.40 145.36L281.80 145.38L282.20 145.39L282.60 145.41L283.00 145.42L283.40 145.44L283.80 145.45L284.20 145.47L284.60 145.48L285.00 145.50L285.40 145.52L285.80 145.54L286.20 145.55L286.60 145.57L287.00 145.60L287.40 145.62L287.80 145.64L288.20 145.66L288.60 145.69L289.00 145.71L289.40 145.74L289.80 145.76L290.20 145.78L290.60 145.81L291.00 145.83L291.40 145.86L291.80 145.88L292.20 145.91L292.60 145.93L293.00 145.96L293.40 145.98L293.80 146.00L294.20 146.02L294.60 146.04L295.00 146.06L295.40 146.08L295.80 146.10L296.20 146.12L296.60 146.13L297.00 146.15L297.40 146.16L297.80 146.17L298.20 146.18L298.60 146.19L299.00 146.19L299.40 146.20L299.80 146.20L300.20 146.20L300.60 146.20L301.00 146.19L301.40 146.18L301.80 146.17L302.20 146.15L302.60 146.14L303.00 146.11L303.40 146.09L303.80 146.07L304.20 146.04L304.60 146.01L305.00 145.98L305.40 145.94L305.80 145.91L306.20 145.87L306.60 145.83L307.00 145.79L307.40 145.75L307.80 145.71L308.20 145.66L308.60 145.62L309.00 145.57L309.40 145.52L309.80 145.47L310.20 145.43L310.60 145.38L311.00 145.33L311.40 145.28L311.80 145.23L312.20 145.18L312.60 145.13L313.00 145.08L313.40 145.03L313.80 144.98L314.20 144.93L314.60 144.88L315.00 144.83L315.40 144.78L315.80 144.74L316.20 144.69L316.60 144.65L317.00 144.60L317.40 144.56L317.80 144.52L318.20 144.48L318.60 144.44L319.00 144.40L319.40 144.35L319.80 144.31L320.20 144.26L320.60 144.21L321.00 144.16L321.40 144.11L321.80 144.06L322.20 144.01L322.60 143.96L323.00 143.91L323.40 143.85L323.80 143.80L324.20 143.74L324.60 143.69L325.00 143.64L325.40 143.58L325.80 143.53L326.20 143.48L326.60 143.42L327.00 143.37L327.40 143.32L327.80 143.27L328.20 143.22L328.60 143.17L329.00 143.12L329.40 143.08L329.80 143.03L330.20 142.99L330.60 142.95L331.00 142.91L331.40 142.87L331.80 142.84L332.20 142.80L332.60 142.77L333.00 142.74L333.40 142.71L333.80 142.69L334.20 142.67L334.60 142.65L335.00 142.63L335.40 142.62L335.80 142.61L336.20 142.60L336.60 142.60L337.00 142.60L337.40 142.60L337.80 142.60L338.20 142.60L338.60 142.60L339.00 142.60L339.40 142.60L339.80 142.60L340.20 142.60L340.60 142.60L341.00 142.60L341.40 142.60L341.80 142.60L342.20 142.60L342.60 142.60L343.00 142.60" fill="none" stroke="#ff7f0e" stroke-width="2.20" stroke-linecap="butt" stroke-linejoin="round"/>
<path d="M54.20 253.61L54.60 252.91L55.00 252.24L55.40 251.59L55.80 250.96L56.20 250.36L56.60 249.80L57.00 249.26L57.40 248.75L57.80 248.23L58.20 247.71L58.60 247.19L59.00 246.66L59.40 246.14L59.80 245.62L60.20 245.10L60.60 244.59L61.00 244.08L61.40 243.59L61.80 243.11L62.20 242.65L62.60 242.20L63.00 241.77L63.40 241.37L63.80 240.99L64.20 240.63L64.60 240.30L65.00 240.00L65.40 239.73L65.80 239.50L66.20 239.30L66.60 239.14L67.00 239.01L67.40 238.94L67.80 238.90L68.20 238.91L68.60 238.98L69.00 239.10L69.40 239.26L69.80 239.47L70.20 239.73L70.60 240.03L71.00 240.37L71.40 240.76L71.80 241.18L72.20 241.64L72.60 242.14L73.00 242.66L73.40 243.23L73.80 243.82L74.20 244.44L74.60 245.08L75.00 245.76L75.40 246.45L75.80 247.17L76.20 247.91L76.60 248.67L77.00 249.44L77.40 250.23L77.80 251.03L78.20 251.85L78.60 252.67L79.00 253.51L79.40 254.35L79.80 255.19L80.20 256.04L80.60 256.89L81.00 257.75L81.40 258.60L81.80 259.44L82.20 260.28L82.60 261.12L83.00 261.95L83.40 262.77L83.80 263.57L84.20 264.36L84.60 265.14L85.00 265.90L85.40 266.65L85.80 267.37L86.20 268.07L86.60 268.75L87.00 269.40L87.40 270.03L87.80 270.63L88.20 271.20L88.60 271.73L89.00 272.24L89.40 272.71L89.80 273.14L90.20 273.53L90.60 273.89L91.00 274.20L91.40 274.47L91.80 274.69L92.20 274.87L92.60 275.00L93.00 275.07L93.40 275.10L93.80 275.02L94.20 274.77L94.60 274.40L95.00 273.89L95.40 273.29L95.80 272.60L96.20 271.85L96.60 271.05L97.00 270.21L97.40 269.26L97.80 267.99L98.20 266.44L98.60 264.67L99.00 262.74L99.40 260.70L99.80 258.61L100.20 256.53L100.60 254.50L101.00 252.40L101.40 250.18L101.80 247.89L102.20 245.53L102.60 243.13L103.00 240.73L103.40 238.34L103.80 236.00L104.20 233.77L104.60 231.64L105.00 229.56L105.40 227.45L105.80 225.23L106.20 222.83L106.60 220.19L107.00 217.21L107.40 213.58L107.80 209.31L108.20 204.55L108.60 199.47L109.00 194.21L109.40 188.93L109.80 183.80L110.20 178.97L110.60 174.59L111.00 170.81L111.40 167.33L111.80 163.99L112.20 160.79L112.60 157.70L113.00 154.73L113.40 151.85L113.80 149.06L114.20 146.34L114.60 143.68L115.00 141.07L115.40 138.50L115.80 135.96L116.20 133.43L116.60 130.92L117.00 128.46L117.40 126.05L117.80 123.68L118.20 121.35L118.60 119.06L119.00 116.80L119.40 114.58L119.80 112.38L120.20 110.21L120.60 108.06L121.00 105.93L121.40 103.82L121.80 101.72L122.20 99.63L122.60 97.54L123.00 95.46L123.40 93.38L123.80 91.32L124.20 89.28L124.60 87.26L125.00 85.28L125.40 83.33L125.80 81.41L126.20 79.53L126.60 77.67L127.00 75.83L127.40 74.07L127.80 72.40L128.20 70.78L128.60 69.12L129.00 67.61L129.40 66.41L129.80 65.66L130.20 65.01L130.60 64.43L131.00 63.94L131.40 63.57L131.80 63.35L132.20 63.31L132.60 63.44L133.00 63.74L133.40 64.18L133.80 64.71L134.20 65.33L134.60 66.00L135.00 66.96L135.40 68.34L135.80 69.95L136.20 71.60L136.60 73.24L137.00 75.05L137.40 76.92L137.80 78.74L138.20 80.40L138.60 81.89L139.00 83.27L139.40 84.58L139.80 85.85L140.20 87.12L140.60 88.43L141.00 89.82L141.40 91.33L141.80 93.00L142.20 94.86L142.60 96.97L143.00 99.30L143.40 101.83L143.80 104.52L144.20 107.36L144.60 110.32L145.00 113.36L145.40 116.47L145.80 119.62L146.20 122.78L146.60 125.92L147.00 129.02L147.40 132.06L147.80 135.01L148.20 137.90L148.60 140.77L149.00 143.63L149.40 146.50L149.80 149.41L150.20 152.38L150.60 155.43L151.00 158.58L151.40 161.86L151.80 165.28L152.20 168.88L152.60 172.68L153.00 177.08L153.40 182.05L153.80 187.42L154.20 192.99L154.60 198.57L155.00 203.97L155.40 209.01L155.80 213.48L156.20 217.21L156.60 220.18L157.00 222.81L157.40 225.17L157.80 227.34L158.20 229.38L158.60 231.37L159.00 233.37L159.40 235.46L159.80 237.69L160.20 240.04L160.60 242.44L161.00 244.80L161.40 247.05L161.80 249.10L162.20 250.89L162.60 252.34L163.00 253.69L163.40 255.03L163.80 256.33L164.20 257.57L164.60 258.70L165.00 259.69L165.40 260.52L165.80 261.16L166.20 261.56L166.60 261.70L167.00 261.51L167.40 260.95L167.80 260.10L168.20 258.98L168.60 257.65L169.00 256.17L169.40 254.57L169.80 252.91L170.20 251.23L170.60 249.58L171.00 247.60L171.40 245.26L171.80 242.69L172.20 240.00L172.60 237.32L173.00 234.78L173.40 232.51L173.80 230.55L174.20 228.76L174.60 227.08L175.00 225.49L175.40 223.96L175.80 222.45L176.20 220.92L176.60 219.34L177.00 217.69L177.40 215.92L177.80 214.00L178.20 211.88L178.60 209.55L179.00 207.04L179.40 204.38L179.80 201.61L180.20 198.75L180.60 195.84L181.00 192.91L181.40 189.98L181.80 187.10L182.20 184.29L182.60 181.59L183.00 179.02L183.40 176.62L183.80 174.42L184.20 172.45L184.60 170.70L185.00 169.08L185.40 167.55L185.80 166.11L186.20 164.73L186.60 163.41L187.00 162.12L187.40 160.86L187.80 159.59L188.20 158.31L188.60 157.00L189.00 155.62L189.40 154.18L189.80 152.69L190.20 151.20L190.60 149.72L191.00 148.30L191.40 146.96L191.80 145.73L192.20 144.64L192.60 143.72L193.00 143.00L193.40 142.40L193.80 141.81L194.20 141.24L194.60 140.71L195.00 140.22L195.40 139.78L195.80 139.42L196.20 139.13L196.60 138.92L197.00 138.81L197.40 138.81L197.80 138.91L198.20 139.09L198.60 139.35L199.00 139.68L199.40 140.08L199.80 140.54L200.20 141.05L200.60 141.61L201.00 142.21L201.40 142.84L201.80 143.63L202.20 144.84L202.60 146.38L203.00 148.15L203.40 150.04L203.80 151.95L204.20 153.76L204.60 155.39L205.00 156.88L205.40 158.31L205.80 159.70L206.20 161.07L206.60 162.45L207.00 163.85L207.40 165.29L207.80 166.81L208.20 168.42L208.60 170.14L209.00 172.00L209.40 174.07L209.80 176.40L210.20 178.95L210.60 181.68L211.00 184.57L211.40 187.59L211.80 190.70L212.20 193.86L212.60 197.05L213.00 200.24L213.40 203.39L213.80 206.47L214.20 209.44L214.60 212.28L215.00 214.95L215.40 217.42L215.80 219.69L216.20 221.84L216.60 223.89L217.00 225.87L217.40 227.79L217.80 229.70L218.20 231.60L218.60 233.51L219.00 235.50L219.40 237.60L219.80 239.77L220.20 241.95L220.60 244.08L221.00 246.12L221.40 248.01L221.80 249.70L222.20 251.13L222.60 252.26L223.00 253.29L223.40 254.30L223.80 255.30L224.20 256.26L224.60 257.20L225.00 258.09L225.40 258.94L225.80 259.74L226.20 260.48L226.60 261.16L227.00 261.78L227.40 262.32L227.80 262.78L228.20 263.15L228.60 263.43L229.00 263.62L229.40 263.70L229.80 263.68L230.20 263.62L230.60 263.49L231.00 263.32L231.40 263.10L231.80 262.83L232.20 262.52L232.60 262.17L233.00 261.78L233.40 261.35L233.80 260.88L234.20 260.39L234.60 259.86L235.00 259.30L235.40 258.72L235.80 258.11L236.20 257.48L236.60 256.84L237.00 256.17L237.40 255.49L237.80 254.80L238.20 254.09L238.60 253.38L239.00 252.66L239.40 251.93L239.80 251.21L240.20 250.48L240.60 249.76L241.00 249.04L241.40 248.33L241.80 247.63L242.20 246.94L242.60 246.26L243.00 245.60L243.40 244.96L243.80 244.33L244.20 243.73L244.60 243.16L245.00 242.61L245.40 242.09L245.80 241.60L246.20 241.14L246.60 240.72L247.00 240.34L247.40 240.00L247.80 239.70L248.20 239.44L248.60 239.23L249.00 239.07L249.40 238.96L249.80 238.91L250.20 238.91L250.60 238.96L251.00 239.07L251.40 239.22L251.80 239.43L252.20 239.68L252.60 239.98L253.00 240.32L253.40 240.70L253.80 241.12L254.20 241.58L254.60 242.08L255.00 242.61L255.40 243.17L255.80 243.77L256.20 244.40L256.60 245.05L257.00 245.73L257.40 246.43L257.80 247.16L258.20 247.90L258.60 248.67L259.00 249.45L259.40 250.25L259.80 251.07L260.20 251.89L260.60 252.73L261.00 253.57L261.40 254.42L261.80 255.28L262.20 256.14L262.60 257.00L263.00 257.86L263.40 258.72L263.80 259.58L264.20 260.43L264.60 261.27L265.00 262.11L265.40 262.93L265.80 263.75L266.20 264.55L266.60 265.33L267.00 266.10L267.40 266.84L267.80 267.57L268.20 268.27L268.60 268.95L269.00 269.60L269.40 270.23L269.80 270.83L270.20 271.39L270.60 271.92L271.00 272.42L271.40 272.88L271.80 273.30L272.20 273.68L272.60 274.02L273.00 274.32L273.40 274.57L273.80 274.78L274.20 274.93L274.60 275.04L275.00 275.09L275.40 275.08L275.80 274.93L276.20 274.63L276.60 274.22L277.00 273.69L277.40 273.08L277.80 272.38L278.20 271.63L278.60 270.83L279.00 270.00L279.40 268.96L279.80 267.57L280.20 265.88L280.60 263.98L281.00 261.92L281.40 259.78L281.80 257.62L282.20 255.51L282.60 253.44L283.00 251.27L283.40 249.00L283.80 246.68L284.20 244.30L284.60 241.91L285.00 239.52L285.40 237.16L285.80 234.86L286.20 232.68L286.60 230.57L287.00 228.46L287.40 226.29L287.80 223.99L288.20 221.50L288.60 218.74L289.00 215.56L289.40 211.78L289.80 207.52L290.20 202.89L290.60 198.02L291.00 193.04L291.40 188.07L291.80 183.24L292.20 178.67L292.60 174.50L293.00 170.82L293.40 167.40L293.80 164.10L294.20 160.90L294.60 157.81L295.00 154.81L295.40 151.90L295.80 149.07L296.20 146.32L296.60 143.64L297.00 141.01L297.40 138.44L297.80 135.91L298.20 133.42L298.60 130.97L299.00 128.58L299.40 126.26L299.80 123.98L300.20 121.76L300.60 119.58L301.00 117.44L301.40 115.33L301.80 113.25L302.20 111.19L302.60 109.16L303.00 107.13L303.40 105.12L303.80 103.10L304.20 101.09L304.60 99.07L305.00 97.04L305.40 94.99L305.80 92.93L306.20 90.88L306.60 88.85L307.00 86.84L307.40 84.86L307.80 82.92L308.20 81.03L308.60 79.16L309.00 77.33L309.40 75.56L309.80 73.90L310.20 72.30L310.60 70.68L311.00 69.19L311.40 67.97L311.80 67.09L312.20 66.28L312.60 65.53L313.00 64.88L313.40 64.38L313.80 64.07L314.20 64.01L314.60 64.20L315.00 64.61L315.40 65.19L315.80 65.89L316.20 66.68L316.60 67.50L317.00 68.54L317.40 69.91L317.80 71.48L318.20 73.10L318.60 74.74L319.00 76.55L319.40 78.41L319.80 80.23L320.20 81.90L320.60 83.40L321.00 84.80L321.40 86.12L321.80 87.41L322.20 88.70L322.60 90.03L323.00 91.43L323.40 92.94L323.80 94.60L324.20 96.45L324.60 98.51L325.00 100.76L325.40 103.18L325.80 105.75L326.20 108.45L326.60 111.26L327.00 114.15L327.40 117.10L327.80 120.10L328.20 123.12L328.60 126.13L329.00 129.12L329.40 132.07L329.80 134.97L330.20 137.87L330.60 140.78L331.00 143.71L331.40 146.66L331.80 149.66L332.20 152.70L332.60 155.81L333.00 158.99L333.40 162.24L333.80 165.59L334.20 169.04L334.60 172.61L335.00 176.50L335.40 180.73L335.80 185.20L336.20 189.81L336.60 194.49L337.00 199.13L337.40 203.66L337.80 207.97L338.20 211.98L338.60 215.60L339.00 218.75L339.40 221.65L339.80 224.41L340.20 227.02L340.60 229.45L341.00 231.69L341.40 233.74L341.80 235.58L342.20 237.18L342.60 238.55L343.00 239.67" fill="none" stroke="#2ca02c" stroke-width="2.20" stroke-linecap="butt" stroke-linejoin="round"/>
<path d="M54.20 216.53L54.60 214.05L55.00 211.57L55.40 209.10L55.80 206.66L56.20 204.27L56.60 201.93L57.00 199.67L57.40 197.49L57.80 195.31L58.20 193.06L58.60 190.77L59.00 188.43L59.40 186.08L59.80 183.71L60.20 181.36L60.60 179.02L61.00 176.72L61.40 174.46L61.80 172.27L62.20 170.16L62.60 168.14L63.00 166.22L63.40 164.42L63.80 162.75L64.20 161.24L64.60 159.88L65.00 158.67L65.40 157.47L65.80 156.26L66.20 155.07L66.60 153.89L67.00 152.74L67.40 151.62L67.80 150.54L68.20 149.51L68.60 148.54L69.00 147.63L69.40 146.80L69.80 146.06L70.20 145.40L70.60 144.85L71.00 144.40L71.40 144.07L71.80 143.87L72.20 143.80L72.60 143.87L73.00 144.06L73.40 144.38L73.80 144.81L74.20 145.34L74.60 145.97L75.00 146.69L75.40 147.50L75.80 148.37L76.20 149.31L76.60 150.31L77.00 151.36L77.40 152.45L77.80 153.57L78.20 154.72L78.60 155.88L79.00 157.06L79.40 158.24L79.80 159.41L80.20 160.68L80.60 162.10L81.00 163.68L81.40 165.38L81.80 167.21L82.20 169.15L82.60 171.17L83.00 173.28L83.40 175.46L83.80 177.69L84.20 179.97L84.60 182.27L85.00 184.58L85.40 186.90L85.80 189.20L86.20 191.48L86.60 193.72L87.00 195.90L87.40 198.02L87.80 200.18L88.20 202.41L88.60 204.72L89.00 207.07L89.40 209.47L89.80 211.89L90.20 214.32L90.60 216.75L91.00 219.15L91.40 221.53L91.80 223.85L92.20 226.12L92.60 228.30L93.00 230.39L93.40 232.38L93.80 234.24L94.20 235.97L94.60 237.55L95.00 238.97L95.40 240.35L95.80 241.74L96.20 243.13L96.60 244.52L97.00 245.89L97.40 247.24L97.80 248.54L98.20 249.80L98.60 251.00L99.00 252.13L99.40 253.18L99.80 254.15L100.20 255.01L100.60 255.76L101.00 256.39L101.40 256.89L101.80 257.25L102.20 257.45L102.60 257.49L103.00 257.36L103.40 257.06L103.80 256.60L104.20 255.99L104.60 255.25L105.00 254.39L105.40 253.41L105.80 252.34L106.20 251.18L106.60 249.94L107.00 248.64L107.40 247.29L107.80 245.89L108.20 244.47L108.60 243.03L109.00 241.58L109.40 240.14L109.80 238.71L110.20 237.21L110.60 235.53L111.00 233.70L111.40 231.72L111.80 229.62L112.20 227.41L112.60 225.10L113.00 222.72L113.40 220.28L113.80 217.80L114.20 215.29L114.60 212.77L115.00 210.25L115.40 207.75L115.80 205.29L116.20 202.89L116.60 200.56L117.00 198.31L117.40 196.11L117.80 193.85L118.20 191.53L118.60 189.16L119.00 186.77L119.40 184.37L119.80 181.97L120.20 179.58L120.60 177.23L121.00 174.93L121.40 172.69L121.80 170.52L122.20 168.45L122.60 166.48L123.00 164.63L123.40 162.92L123.80 161.36L124.20 159.97L124.60 158.73L125.00 157.51L125.40 156.29L125.80 155.07L126.20 153.87L126.60 152.70L127.00 151.56L127.40 150.47L127.80 149.43L128.20 148.44L128.60 147.53L129.00 146.70L129.40 145.95L129.80 145.30L130.20 144.76L130.60 144.33L131.00 144.02L131.40 143.84L131.80 143.80L132.20 143.91L132.60 144.14L133.00 144.49L133.40 144.95L133.80 145.52L134.20 146.19L134.60 146.94L135.00 147.78L135.40 148.69L135.80 149.66L136.20 150.68L136.60 151.76L137.00 152.87L137.40 154.02L137.80 155.19L138.20 156.37L138.60 157.56L139.00 158.75L139.40 159.95L139.80 161.30L140.20 162.81L140.60 164.47L141.00 166.25L141.40 168.15L141.80 170.15L142.20 172.25L142.60 174.41L143.00 176.64L143.40 178.92L143.80 181.23L144.20 183.57L144.60 185.91L145.00 188.24L145.40 190.55L145.80 192.83L146.20 195.06L146.60 197.23L147.00 199.38L147.40 201.60L147.80 203.91L148.20 206.27L148.60 208.68L149.00 211.12L149.40 213.57L149.80 216.03L150.20 218.46L150.60 220.87L151.00 223.24L151.40 225.54L151.80 227.77L152.20 229.91L152.60 231.94L153.00 233.85L153.40 235.63L153.80 237.25L154.20 238.71L154.60 240.10L155.00 241.50L155.40 242.91L155.80 244.32L156.20 245.70L156.60 247.07L157.00 248.39L157.40 249.67L157.80 250.89L158.20 252.04L158.60 253.11L159.00 254.09L159.40 254.96L159.80 255.73L160.20 256.37L160.60 256.88L161.00 257.24L161.40 257.45L161.80 257.49L162.20 257.37L162.60 257.10L163.00 256.67L163.40 256.12L163.80 255.44L164.20 254.64L164.60 253.75L165.00 252.75L165.40 251.68L165.80 250.53L166.20 249.32L166.60 248.05L167.00 246.74L167.40 245.40L167.80 244.03L168.20 242.66L168.60 241.28L169.00 239.90L169.40 238.55L169.80 237.09L170.20 235.48L170.60 233.73L171.00 231.85L171.40 229.85L171.80 227.76L172.20 225.57L172.60 223.32L173.00 221.00L173.40 218.64L173.80 216.25L174.20 213.85L174.60 211.44L175.00 209.05L175.40 206.68L175.80 204.36L176.20 202.08L176.60 199.88L177.00 197.76L177.40 195.65L177.80 193.48L178.20 191.26L178.60 189.00L179.00 186.72L179.40 184.43L179.80 182.14L180.20 179.86L180.60 177.61L181.00 175.40L181.40 173.25L181.80 171.16L182.20 169.15L182.60 167.23L183.00 165.42L183.40 163.73L183.80 162.17L184.20 160.75L184.60 159.49L185.00 158.32L185.40 157.16L185.80 155.99L186.20 154.83L186.60 153.69L187.00 152.58L187.40 151.50L187.80 150.45L188.20 149.46L188.60 148.52L189.00 147.64L189.40 146.83L189.80 146.10L190.20 145.46L190.60 144.91L191.00 144.46L191.40 144.12L191.80 143.90L192.20 143.80L192.60 143.84L193.00 144.02L193.40 144.34L193.80 144.79L194.20 145.35L194.60 146.02L195.00 146.79L195.40 147.65L195.80 148.59L196.20 149.60L196.60 150.67L197.00 151.79L197.40 152.96L197.80 154.16L198.20 155.38L198.60 156.62L199.00 157.87L199.40 159.11L199.80 160.41L200.20 161.88L200.60 163.52L201.00 165.32L201.40 167.24L201.80 169.29L202.20 171.44L202.60 173.68L203.00 176.00L203.40 178.36L203.80 180.77L204.20 183.21L204.60 185.66L205.00 188.10L205.40 190.51L205.80 192.90L206.20 195.22L206.60 197.49L207.00 199.74L207.40 202.08L207.80 204.51L208.20 206.99L208.60 209.52L209.00 212.08L209.40 214.64L209.80 217.20L210.20 219.74L210.60 222.23L211.00 224.67L211.40 227.03L211.80 229.29L212.20 231.45L212.60 233.48L213.00 235.36L213.40 237.08L213.80 238.62L214.20 240.07L214.60 241.54L215.00 243.01L215.40 244.48L215.80 245.93L216.20 247.34L216.60 248.72L217.00 250.04L217.40 251.29L217.80 252.46L218.20 253.54L218.60 254.52L219.00 255.38L219.40 256.11L219.80 256.70L220.20 257.14L220.60 257.41L221.00 257.50L221.40 257.42L221.80 257.19L222.20 256.81L222.60 256.30L223.00 255.67L223.40 254.92L223.80 254.06L224.20 253.11L224.60 252.08L225.00 250.97L225.40 249.80L225.80 248.57L226.20 247.29L226.60 245.98L227.00 244.64L227.40 243.29L227.80 241.92L228.20 240.56L228.60 239.22L229.00 237.85L229.40 236.34L229.80 234.68L230.20 232.89L230.60 230.98L231.00 228.97L231.40 226.86L231.80 224.67L232.20 222.42L232.60 220.12L233.00 217.78L233.40 215.41L233.80 213.04L234.20 210.67L234.60 208.31L235.00 205.98L235.40 203.70L235.80 201.48L236.20 199.32L236.60 197.25L237.00 195.15L237.40 192.99L237.80 190.79L238.20 188.56L238.60 186.30L239.00 184.04L239.40 181.78L239.80 179.53L240.20 177.32L240.60 175.15L241.00 173.02L241.40 170.97L241.80 168.99L242.20 167.11L242.60 165.33L243.00 163.66L243.40 162.13L243.80 160.73L244.20 159.49L244.60 158.34L245.00 157.19L245.40 156.03L245.80 154.89L246.20 153.77L246.60 152.66L247.00 151.59L247.40 150.56L247.80 149.57L248.20 148.63L248.60 147.76L249.00 146.95L249.40 146.22L249.80 145.57L250.20 145.01L250.60 144.55L251.00 144.19L251.40 143.94L251.80 143.82L252.20 143.82L252.60 143.97L253.00 144.27L253.40 144.70L253.80 145.25L254.20 145.91L254.60 146.68L255.00 147.55L255.40 148.49L255.80 149.51L256.20 150.60L256.60 151.74L257.00 152.93L257.40 154.15L257.80 155.39L258.20 156.65L258.60 157.92L259.00 159.18L259.40 160.52L259.80 162.03L260.20 163.72L260.60 165.56L261.00 167.54L261.40 169.64L261.80 171.85L262.20 174.15L262.60 176.51L263.00 178.93L263.40 181.39L263.80 183.88L264.20 186.37L264.60 188.85L265.00 191.30L265.40 193.70L265.80 196.05L266.20 198.33L266.60 200.66L267.00 203.08L267.40 205.57L267.80 208.13L268.20 210.72L268.60 213.32L269.00 215.94L269.40 218.53L269.80 221.09L270.20 223.60L270.60 226.03L271.00 228.38L271.40 230.62L271.80 232.74L272.20 234.71L272.60 236.52L273.00 238.15L273.40 239.63L273.80 241.12L274.20 242.62L274.60 244.11L275.00 245.59L275.40 247.04L275.80 248.45L276.20 249.81L276.60 251.09L277.00 252.30L277.40 253.41L277.80 254.42L278.20 255.31L278.60 256.06L279.00 256.67L279.40 257.12L279.80 257.40L280.20 257.50L280.60 257.42L281.00 257.19L281.40 256.82L281.80 256.31L282.20 255.69L282.60 254.95L283.00 254.10L283.40 253.17L283.80 252.14L284.20 251.05L284.60 249.88L285.00 248.67L285.40 247.40L285.80 246.10L286.20 244.77L286.60 243.43L287.00 242.07L287.40 240.72L287.80 239.38L288.20 238.03L288.60 236.55L289.00 234.93L289.40 233.17L289.80 231.29L290.20 229.30L290.60 227.22L291.00 225.06L291.40 222.83L291.80 220.55L292.20 218.23L292.60 215.89L293.00 213.53L293.40 211.17L293.80 208.82L294.20 206.50L294.60 204.22L295.00 202.00L295.40 199.84L295.80 197.76L296.20 195.69L296.60 193.57L297.00 191.39L297.40 189.18L297.80 186.94L298.20 184.69L298.60 182.44L299.00 180.21L299.40 178.00L299.80 175.82L300.20 173.70L300.60 171.63L301.00 169.64L301.40 167.74L301.80 165.93L302.20 164.24L302.60 162.66L303.00 161.22L303.40 159.93L303.80 158.77L304.20 157.63L304.60 156.48L305.00 155.34L305.40 154.22L305.80 153.11L306.20 152.03L306.60 150.99L307.00 149.99L307.40 149.03L307.80 148.14L308.20 147.30L308.60 146.54L309.00 145.86L309.40 145.26L309.80 144.75L310.20 144.35L310.60 144.05L311.00 143.86L311.40 143.80L311.80 143.88L312.20 144.10L312.60 144.47L313.00 144.96L313.40 145.57L313.80 146.29L314.20 147.10L314.60 148.01L315.00 148.99L315.40 150.05L315.80 151.16L316.20 152.33L316.60 153.53L317.00 154.77L317.40 156.02L317.80 157.29L318.20 158.55L318.60 159.83L319.00 161.25L319.40 162.86L319.80 164.62L320.20 166.54L320.60 168.58L321.00 170.74L321.40 172.99L321.80 175.32L322.20 177.72L322.60 180.16L323.00 182.63L323.40 185.12L323.80 187.61L324.20 190.08L324.60 192.51L325.00 194.89L325.40 197.20L325.80 199.48L326.20 201.86L326.60 204.32L327.00 206.84L327.40 209.42L327.80 212.02L328.20 214.63L328.60 217.24L329.00 219.81L329.40 222.35L329.80 224.82L330.20 227.22L330.60 229.51L331.00 231.70L331.40 233.74L331.80 235.64L332.20 237.36L332.60 238.90L333.00 240.35L333.40 241.77L333.80 243.17L334.20 244.53L334.60 245.86L335.00 247.15L335.40 248.39L335.80 249.58L336.20 250.71L336.60 251.79L337.00 252.80L337.40 253.74L337.80 254.61L338.20 255.40L338.60 256.11L339.00 256.74L339.40 257.27L339.80 257.71L340.20 258.04L340.60 258.27L341.00 258.40L341.40 258.41L341.80 258.30L342.20 258.07L342.60 257.71L343.00 257.22" fill="none" stroke="#d62728" stroke-width="2.20" stroke-linecap="butt" stroke-linejoin="round" stroke-dasharray="3.8 2.4 1.6 2.4 1.6 2.4"/>
<path d="M54.20 251.22L54.60 251.05L55.00 250.90L55.40 250.77L55.80 250.67L56.20 250.59L56.60 250.53L57.00 250.50L57.40 250.50L57.80 250.53L58.20 250.59L58.60 250.67L59.00 250.77L59.40 250.90L59.80 251.05L60.20 251.22L60.60 251.41L61.00 251.61L61.40 251.83L61.80 252.06L62.20 252.31L62.60 252.57L63.00 252.83L63.40 253.11L63.80 253.39L64.20 253.67L64.60 253.96L65.00 254.25L65.40 254.55L65.80 254.84L66.20 255.13L66.60 255.41L67.00 255.69L67.40 255.97L67.80 256.23L68.20 256.49L68.60 256.74L69.00 256.97L69.40 257.19L69.80 257.39L70.20 257.58L70.60 257.75L71.00 257.90L71.40 258.03L71.80 258.13L72.20 258.21L72.60 258.27L73.00 258.30L73.40 258.30L73.80 258.26L74.20 258.19L74.60 258.09L75.00 257.95L75.40 257.79L75.80 257.60L76.20 257.38L76.60 257.14L77.00 256.87L77.40 256.59L77.80 256.28L78.20 255.96L78.60 255.62L79.00 255.26L79.40 254.89L79.80 254.51L80.20 254.12L80.60 253.72L81.00 253.31L81.40 252.90L81.80 252.49L82.20 252.07L82.60 251.65L83.00 251.23L83.40 250.82L83.80 250.41L84.20 250.01L84.60 249.61L85.00 249.22L85.40 248.85L85.80 248.48L86.20 248.13L86.60 247.80L87.00 247.48L87.40 247.18L87.80 246.91L88.20 246.65L88.60 246.42L89.00 246.21L89.40 246.04L89.80 245.88L90.20 245.76L90.60 245.68L91.00 245.62L91.40 245.60L91.80 245.62L92.20 245.67L92.60 245.75L93.00 245.87L93.40 246.02L93.80 246.19L94.20 246.39L94.60 246.62L95.00 246.87L95.40 247.15L95.80 247.44L96.20 247.76L96.60 248.09L97.00 248.44L97.40 248.80L97.80 249.17L98.20 249.56L98.60 249.96L99.00 250.36L99.40 250.77L99.80 251.18L100.20 251.60L100.60 252.02L101.00 252.43L101.40 252.85L101.80 253.26L102.20 253.67L102.60 254.07L103.00 254.46L103.40 254.84L103.80 255.21L104.20 255.57L104.60 255.92L105.00 256.24L105.40 256.55L105.80 256.84L106.20 257.11L106.60 257.35L107.00 257.57L107.40 257.77L107.80 257.93L108.20 258.07L108.60 258.18L109.00 258.25L109.40 258.29L109.80 258.30L110.20 258.27L110.60 258.22L111.00 258.14L111.40 258.04L111.80 257.92L112.20 257.77L112.60 257.60L113.00 257.42L113.40 257.22L113.80 257.00L114.20 256.77L114.60 256.52L115.00 256.27L115.40 256.00L115.80 255.73L116.20 255.45L116.60 255.16L117.00 254.87L117.40 254.58L117.80 254.29L118.20 254.00L118.60 253.71L119.00 253.42L119.40 253.14L119.80 252.87L120.20 252.60L120.60 252.34L121.00 252.09L121.40 251.86L121.80 251.64L122.20 251.43L122.60 251.24L123.00 251.07L123.40 250.92L123.80 250.79L124.20 250.68L124.60 250.60L125.00 250.54L125.40 250.51L125.80 250.50L126.20 250.53L126.60 250.58L127.00 250.66L127.40 250.76L127.80 250.88L128.20 251.03L128.60 251.20L129.00 251.38L129.40 251.58L129.80 251.80L130.20 252.03L130.60 252.28L131.00 252.53L131.40 252.80L131.80 253.07L132.20 253.35L132.60 253.64L133.00 253.93L133.40 254.22L133.80 254.51L134.20 254.80L134.60 255.09L135.00 255.38L135.40 255.66L135.80 255.93L136.20 256.20L136.60 256.46L137.00 256.71L137.40 256.94L137.80 257.16L138.20 257.37L138.60 257.56L139.00 257.73L139.40 257.88L139.80 258.01L140.20 258.12L140.60 258.20L141.00 258.26L141.40 258.29L141.80 258.30L142.20 258.27L142.60 258.20L143.00 258.10L143.40 257.97L143.80 257.81L144.20 257.62L144.60 257.41L145.00 257.17L145.40 256.91L145.80 256.62L146.20 256.32L146.60 256.00L147.00 255.66L147.40 255.31L147.80 254.94L148.20 254.56L148.60 254.17L149.00 253.77L149.40 253.36L149.80 252.95L150.20 252.54L150.60 252.12L151.00 251.70L151.40 251.28L151.80 250.87L152.20 250.46L152.60 250.06L153.00 249.66L153.40 249.27L153.80 248.89L154.20 248.53L154.60 248.18L155.00 247.84L155.40 247.52L155.80 247.22L156.20 246.94L156.60 246.68L157.00 246.45L157.40 246.24L157.80 246.06L158.20 245.90L158.60 245.78L159.00 245.69L159.40 245.63L159.80 245.60L160.20 245.61L160.60 245.66L161.00 245.74L161.40 245.85L161.80 246.00L162.20 246.17L162.60 246.37L163.00 246.59L163.40 246.84L163.80 247.11L164.20 247.41L164.60 247.72L165.00 248.05L165.40 248.39L165.80 248.75L166.20 249.13L166.60 249.51L167.00 249.91L167.40 250.31L167.80 250.72L168.20 251.13L168.60 251.55L169.00 251.96L169.40 252.38L169.80 252.80L170.20 253.21L170.60 253.62L171.00 254.02L171.40 254.41L171.80 254.80L172.20 255.17L172.60 255.53L173.00 255.87L173.40 256.20L173.80 256.51L174.20 256.80L174.60 257.07L175.00 257.32L175.40 257.55L175.80 257.74L176.20 257.91L176.60 258.06L177.00 258.17L177.40 258.25L177.80 258.29L178.20 258.30L178.60 258.28L179.00 258.23L179.40 258.15L179.80 258.05L180.20 257.93L180.60 257.79L181.00 257.62L181.40 257.44L181.80 257.24L182.20 257.03L182.60 256.80L183.00 256.55L183.40 256.30L183.80 256.04L184.20 255.76L184.60 255.48L185.00 255.20L185.40 254.91L185.80 254.62L186.20 254.33L186.60 254.03L187.00 253.74L187.40 253.46L187.80 253.18L188.20 252.90L188.60 252.63L189.00 252.37L189.40 252.12L189.80 251.89L190.20 251.66L190.60 251.46L191.00 251.26L191.40 251.09L191.80 250.94L192.20 250.80L192.60 250.69L193.00 250.61L193.40 250.54L193.80 250.51L194.20 250.50L194.60 250.52L195.00 250.57L195.40 250.65L195.80 250.75L196.20 250.87L196.60 251.01L197.00 251.18L197.40 251.36L197.80 251.56L198.20 251.77L198.60 252.00L199.00 252.25L199.40 252.50L199.80 252.76L200.20 253.04L200.60 253.32L201.00 253.60L201.40 253.89L201.80 254.18L202.20 254.47L202.60 254.77L203.00 255.06L203.40 255.34L203.80 255.62L204.20 255.90L204.60 256.17L205.00 256.43L205.40 256.68L205.80 256.91L206.20 257.14L206.60 257.34L207.00 257.54L207.40 257.71L207.80 257.86L208.20 258.00L208.60 258.11L209.00 258.19L209.40 258.26L209.80 258.29L210.20 258.30L210.60 258.27L211.00 258.21L211.40 258.12L211.80 257.99L212.20 257.83L212.60 257.65L213.00 257.44L213.40 257.20L213.80 256.94L214.20 256.66L214.60 256.36L215.00 256.04L215.40 255.70L215.80 255.35L216.20 254.98L216.60 254.61L217.00 254.22L217.40 253.82L217.80 253.41L218.20 253.00L218.60 252.59L219.00 252.17L219.40 251.75L219.80 251.34L220.20 250.92L220.60 250.51L221.00 250.11L221.40 249.71L221.80 249.32L222.20 248.94L222.60 248.57L223.00 248.22L223.40 247.88L223.80 247.56L224.20 247.26L224.60 246.97L225.00 246.71L225.40 246.48L225.80 246.26L226.20 246.08L226.60 245.92L227.00 245.79L227.40 245.69L227.80 245.63L228.20 245.60L228.60 245.61L229.00 245.65L229.40 245.73L229.80 245.84L230.20 245.98L230.60 246.14L231.00 246.34L231.40 246.56L231.80 246.81L232.20 247.08L232.60 247.37L233.00 247.68L233.40 248.01L233.80 248.35L234.20 248.71L234.60 249.08L235.00 249.46L235.40 249.86L235.80 250.26L236.20 250.66L236.60 251.08L237.00 251.49L237.40 251.91L237.80 252.33L238.20 252.75L238.60 253.16L239.00 253.57L239.40 253.97L239.80 254.36L240.20 254.75L240.60 255.12L241.00 255.48L241.40 255.83L241.80 256.16L242.20 256.47L242.60 256.77L243.00 257.04L243.40 257.29L243.80 257.52L244.20 257.72L244.60 257.89L245.00 258.04L245.40 258.15L245.80 258.24L246.20 258.29L246.60 258.30L247.00 258.28L247.40 258.24L247.80 258.16L248.20 258.07L248.60 257.95L249.00 257.81L249.40 257.65L249.80 257.47L250.20 257.27L250.60 257.05L251.00 256.83L251.40 256.58L251.80 256.33L252.20 256.07L252.60 255.80L253.00 255.52L253.40 255.24L253.80 254.95L254.20 254.66L254.60 254.36L255.00 254.07L255.40 253.78L255.80 253.49L256.20 253.21L256.60 252.93L257.00 252.66L257.40 252.40L257.80 252.15L258.20 251.92L258.60 251.69L259.00 251.48L259.40 251.29L259.80 251.11L260.20 250.96L260.60 250.82L261.00 250.71L261.40 250.62L261.80 250.55L262.20 250.51L262.60 250.50L263.00 250.52L263.40 250.56L263.80 250.64L264.20 250.73L264.60 250.85L265.00 250.99L265.40 251.15L265.80 251.33L266.20 251.53L266.60 251.75L267.00 251.97L267.40 252.22L267.80 252.47L268.20 252.73L268.60 253.00L269.00 253.28L269.40 253.56L269.80 253.85L270.20 254.14L270.60 254.44L271.00 254.73L271.40 255.02L271.80 255.31L272.20 255.59L272.60 255.87L273.00 256.14L273.40 256.40L273.80 256.65L274.20 256.88L274.60 257.11L275.00 257.32L275.40 257.51L275.80 257.69L276.20 257.84L276.60 257.98L277.00 258.09L277.40 258.18L277.80 258.25L278.20 258.29L278.60 258.30L279.00 258.28L279.40 258.22L279.80 258.13L280.20 258.01L280.60 257.85L281.00 257.67L281.40 257.47L281.80 257.23L282.20 256.98L282.60 256.70L283.00 256.40L283.40 256.08L283.80 255.75L284.20 255.40L284.60 255.03L285.00 254.65L285.40 254.27L285.80 253.87L286.20 253.47L286.60 253.06L287.00 252.64L287.40 252.22L287.80 251.81L288.20 251.39L288.60 250.97L289.00 250.56L289.40 250.16L289.80 249.76L290.20 249.37L290.60 248.99L291.00 248.62L291.40 248.26L291.80 247.92L292.20 247.60L292.60 247.29L293.00 247.01L293.40 246.75L293.80 246.50L294.20 246.29L294.60 246.10L295.00 245.94L295.40 245.81L295.80 245.71L296.20 245.64L296.60 245.60L297.00 245.61L297.40 245.64L297.80 245.72L298.20 245.82L298.60 245.96L299.00 246.12L299.40 246.31L299.80 246.53L300.20 246.78L300.60 247.04L301.00 247.33L301.40 247.64L301.80 247.96L302.20 248.31L302.60 248.66L303.00 249.03L303.40 249.41L303.80 249.81L304.20 250.21L304.60 250.61L305.00 251.03L305.40 251.44L305.80 251.86L306.20 252.28L306.60 252.69L307.00 253.11L307.40 253.52L307.80 253.92L308.20 254.32L308.60 254.70L309.00 255.08L309.40 255.44L309.80 255.79L310.20 256.12L310.60 256.44L311.00 256.73L311.40 257.01L311.80 257.26L312.20 257.49L312.60 257.70L313.00 257.87L313.40 258.02L313.80 258.14L314.20 258.23L314.60 258.28L315.00 258.30L315.40 258.29L315.80 258.24L316.20 258.17L316.60 258.08L317.00 257.96L317.40 257.83L317.80 257.67L318.20 257.49L318.60 257.29L319.00 257.08L319.40 256.85L319.80 256.62L320.20 256.36L320.60 256.10L321.00 255.83L321.40 255.55L321.80 255.27L322.20 254.98L322.60 254.69L323.00 254.40L323.40 254.11L323.80 253.82L324.20 253.53L324.60 253.25L325.00 252.97L325.40 252.70L325.80 252.44L326.20 252.18L326.60 251.95L327.00 251.72L327.40 251.51L327.80 251.31L328.20 251.13L328.60 250.97L329.00 250.84L329.40 250.72L329.80 250.63L330.20 250.56L330.60 250.51L331.00 250.50L331.40 250.51L331.80 250.56L332.20 250.63L332.60 250.72L333.00 250.84L333.40 250.97L333.80 251.13L334.20 251.31L334.60 251.51L335.00 251.72L335.40 251.95L335.80 252.18L336.20 252.44L336.60 252.70L337.00 252.97L337.40 253.25L337.80 253.53L338.20 253.82L338.60 254.11L339.00 254.40L339.40 254.69L339.80 254.98L340.20 255.27L340.60 255.55L341.00 255.83L341.40 256.10L341.80 256.36L342.20 256.62L342.60 256.85L343.00 257.08" fill="none" stroke="#9467bd" stroke-width="2.20" stroke-linecap="butt" stroke-linejoin="round" stroke-dasharray="7 2 1.5 2 1.5 2"/>
</g>
<rect x="256.50" y="6.50" width="77.90" height="243.30" rx="2" ry="2" fill="#fff" fill-opacity="0.8" stroke="#d0d0d0" stroke-width="0.9"/>
<text x="261.80" y="17.80" font-family='"Liberation Sans", sans-serif' font-size="10.45" text-anchor="start" font-weight="normal" font-style="normal" fill="#000">Mean electron</text>
<text x="261.80" y="28.30" font-family='"Liberation Sans", sans-serif' font-size="10.45" text-anchor="start" font-weight="normal" font-style="normal" fill="#000">densities (a.u.)</text>
<text x="290.20" y="43.60" font-family='"Liberation Sans", sans-serif' font-size="10.45" text-anchor="start" font-weight="normal" font-style="normal" fill="#000">‹110› Off</text>
<text x="290.20" y="54.70" font-family='"Liberation Sans", sans-serif' font-size="10.45" text-anchor="start" font-weight="normal" font-style="normal" fill="#000">(Si12)</text>
<text x="290.20" y="65.90" font-family='"Liberation Sans", sans-serif' font-size="10.45" text-anchor="start" font-weight="normal" font-style="normal" fill="#000">9.04e-02</text>
<path d="M260.2 52.40L281.5 52.40" fill="none" stroke="#7f7f7f" stroke-width="2.20" stroke-linecap="butt" stroke-linejoin="round" stroke-dasharray="12.4 2.4 1.6 2.4"/>
<text x="290.20" y="80.60" font-family='"Liberation Sans", sans-serif' font-size="10.45" text-anchor="start" font-weight="normal" font-style="normal" fill="#000">‹110› Off</text>
<text x="290.20" y="91.70" font-family='"Liberation Sans", sans-serif' font-size="10.45" text-anchor="start" font-weight="normal" font-style="normal" fill="#000">(Si4)</text>
<text x="290.20" y="102.90" font-family='"Liberation Sans", sans-serif' font-size="10.45" text-anchor="start" font-weight="normal" font-style="normal" fill="#000">7.31e-02</text>
<path d="M260.2 89.70L281.5 89.70" fill="none" stroke="#8c564b" stroke-width="2.20" stroke-linecap="butt" stroke-linejoin="round" stroke-dasharray="1.9 2.9"/>
<text x="290.20" y="118.20" font-family='"Liberation Sans", sans-serif' font-size="10.45" text-anchor="start" font-weight="normal" font-style="normal" fill="#000">‹111›</text>
<text x="290.20" y="129.40" font-family='"Liberation Sans", sans-serif' font-size="10.45" text-anchor="start" font-weight="normal" font-style="normal" fill="#000">Half</text>
<text x="290.20" y="140.50" font-family='"Liberation Sans", sans-serif' font-size="10.45" text-anchor="start" font-weight="normal" font-style="normal" fill="#000">2.97e-02</text>
<path d="M260.2 126.60L281.5 126.60" fill="none" stroke="#1f77b4" stroke-width="2.20" stroke-linecap="butt" stroke-linejoin="round" stroke-dasharray="6 2.6"/>
<text x="290.20" y="155.10" font-family='"Liberation Sans", sans-serif' font-size="10.45" text-anchor="start" font-weight="normal" font-style="normal" fill="#000">‹001›</text>
<text x="290.20" y="166.20" font-family='"Liberation Sans", sans-serif' font-size="10.45" text-anchor="start" font-weight="normal" font-style="normal" fill="#000">2.49e-02</text>
<path d="M260.2 157.70L281.5 157.70" fill="none" stroke="#ff7f0e" stroke-width="2.20" stroke-linecap="butt" stroke-linejoin="round"/>
<text x="290.20" y="181.60" font-family='"Liberation Sans", sans-serif' font-size="10.45" text-anchor="start" font-weight="normal" font-style="normal" fill="#000">‹321›</text>
<text x="290.20" y="192.60" font-family='"Liberation Sans", sans-serif' font-size="10.45" text-anchor="start" font-weight="normal" font-style="normal" fill="#000">1.81e-02</text>
<path d="M260.2 184.50L281.5 184.50" fill="none" stroke="#2ca02c" stroke-width="2.20" stroke-linecap="butt" stroke-linejoin="round"/>
<text x="290.20" y="207.60" font-family='"Liberation Sans", sans-serif' font-size="10.45" text-anchor="start" font-weight="normal" font-style="normal" fill="#000">‹112›</text>
<text x="290.20" y="218.30" font-family='"Liberation Sans", sans-serif' font-size="10.45" text-anchor="start" font-weight="normal" font-style="normal" fill="#000">1.42e-02</text>
<path d="M260.2 210.30L281.5 210.30" fill="none" stroke="#d62728" stroke-width="2.20" stroke-linecap="butt" stroke-linejoin="round" stroke-dasharray="3.8 2.4 1.6 2.4 1.6 2.4"/>
<text x="290.20" y="232.60" font-family='"Liberation Sans", sans-serif' font-size="10.45" text-anchor="start" font-weight="normal" font-style="normal" fill="#000">‹110›</text>
<text x="290.20" y="243.70" font-family='"Liberation Sans", sans-serif' font-size="10.45" text-anchor="start" font-weight="normal" font-style="normal" fill="#000">6.09e-03</text>
<path d="M260.2 236.20L281.5 236.20" fill="none" stroke="#9467bd" stroke-width="2.20" stroke-linecap="butt" stroke-linejoin="round" stroke-dasharray="7 2 1.5 2 1.5 2"/>
<rect x="57.20" y="0.40" width="282.80" height="287.90" fill="none" stroke="#000" stroke-width="1.25"/>
<line x1="52.60" y1="37.00" x2="57.20" y2="37.00" stroke="#000" stroke-width="1"/>
<line x1="52.60" y1="215.00" x2="57.20" y2="215.00" stroke="#000" stroke-width="1"/>
<line x1="54.60" y1="285.83" x2="57.20" y2="285.83" stroke="#000" stroke-width="0.8"/>
<line x1="54.60" y1="268.58" x2="57.20" y2="268.58" stroke="#000" stroke-width="0.8"/>
<line x1="54.60" y1="254.49" x2="57.20" y2="254.49" stroke="#000" stroke-width="0.8"/>
<line x1="54.60" y1="242.57" x2="57.20" y2="242.57" stroke="#000" stroke-width="0.8"/>
<line x1="54.60" y1="232.25" x2="57.20" y2="232.25" stroke="#000" stroke-width="0.8"/>
<line x1="54.60" y1="223.14" x2="57.20" y2="223.14" stroke="#000" stroke-width="0.8"/>
<line x1="54.60" y1="161.42" x2="57.20" y2="161.42" stroke="#000" stroke-width="0.8"/>
<line x1="54.60" y1="130.07" x2="57.20" y2="130.07" stroke="#000" stroke-width="0.8"/>
<line x1="54.60" y1="107.83" x2="57.20" y2="107.83" stroke="#000" stroke-width="0.8"/>
<line x1="54.60" y1="90.58" x2="57.20" y2="90.58" stroke="#000" stroke-width="0.8"/>
<line x1="54.60" y1="76.49" x2="57.20" y2="76.49" stroke="#000" stroke-width="0.8"/>
<line x1="54.60" y1="64.57" x2="57.20" y2="64.57" stroke="#000" stroke-width="0.8"/>
<line x1="54.60" y1="54.25" x2="57.20" y2="54.25" stroke="#000" stroke-width="0.8"/>
<line x1="54.60" y1="45.14" x2="57.20" y2="45.14" stroke="#000" stroke-width="0.8"/>
<line x1="105.60" y1="288.30" x2="105.60" y2="292.70" stroke="#000" stroke-width="1"/>
<line x1="154.00" y1="288.30" x2="154.00" y2="292.70" stroke="#000" stroke-width="1"/>
<line x1="202.40" y1="288.30" x2="202.40" y2="292.70" stroke="#000" stroke-width="1"/>
<line x1="250.80" y1="288.30" x2="250.80" y2="292.70" stroke="#000" stroke-width="1"/>
<line x1="299.20" y1="288.30" x2="299.20" y2="292.70" stroke="#000" stroke-width="1"/>
<text x="46.50" y="41.70" font-family='"Liberation Sans", sans-serif' font-size="12.50" text-anchor="end"><tspan letter-spacing="0.6">1</tspan>0<tspan font-size="7.60" dx="0.4" dy="-5.0">−1</tspan></text>
<text x="46.50" y="219.70" font-family='"Liberation Sans", sans-serif' font-size="12.50" text-anchor="end"><tspan letter-spacing="0.6">1</tspan>0<tspan font-size="7.60" dx="0.4" dy="-5.0">−2</tspan></text>
<text x="101.00" y="304.00" font-family='"Liberation Sans", sans-serif' font-size="8.60" text-anchor="middle" font-weight="normal" font-style="normal" fill="#000">1</text><line x1="98.30" y1="306.3" x2="103.70" y2="306.3" stroke="#000" stroke-width="0.85"/><text x="101.00" y="313.90" font-family='"Liberation Sans", sans-serif' font-size="8.60" text-anchor="middle" font-weight="normal" font-style="normal" fill="#000">2</text><text x="105.60" y="308.90" font-family='"Liberation Sans", sans-serif' font-size="12.40" text-anchor="start" font-weight="normal" font-style="italic" fill="#000">a</text>
<text x="153.30" y="305.40" font-family='"Liberation Sans", sans-serif' font-size="12.40" text-anchor="middle" font-weight="normal" font-style="italic" fill="#000">a</text>
<text x="198.00" y="304.00" font-family='"Liberation Sans", sans-serif' font-size="8.60" text-anchor="middle" font-weight="normal" font-style="normal" fill="#000">3</text><line x1="195.30" y1="306.3" x2="200.70" y2="306.3" stroke="#000" stroke-width="0.85"/><text x="198.00" y="313.90" font-family='"Liberation Sans", sans-serif' font-size="8.60" text-anchor="middle" font-weight="normal" font-style="normal" fill="#000">2</text><text x="202.60" y="308.90" font-family='"Liberation Sans", sans-serif' font-size="12.40" text-anchor="start" font-weight="normal" font-style="italic" fill="#000">a</text>
<text x="250.20" y="305.30" font-family='"Liberation Sans", sans-serif' font-size="12.40" text-anchor="middle" font-weight="normal" font-style="normal" fill="#000">2<tspan font-style="italic">a</tspan></text>
<text x="294.90" y="304.00" font-family='"Liberation Sans", sans-serif' font-size="8.60" text-anchor="middle" font-weight="normal" font-style="normal" fill="#000">5</text><line x1="292.20" y1="306.3" x2="297.60" y2="306.3" stroke="#000" stroke-width="0.85"/><text x="294.90" y="313.90" font-family='"Liberation Sans", sans-serif' font-size="8.60" text-anchor="middle" font-weight="normal" font-style="normal" fill="#000">2</text><text x="299.50" y="308.90" font-family='"Liberation Sans", sans-serif' font-size="12.40" text-anchor="start" font-weight="normal" font-style="italic" fill="#000">a</text>
<text x="198.80" y="331.30" font-family='"Liberation Sans", sans-serif' font-size="12.55" text-anchor="middle" font-weight="normal" font-style="normal" fill="#000">Projectile displacement (a = 5.43 Å)</text>
<text x="0.00" y="0.00" font-family='"Liberation Sans", sans-serif' font-size="12.45" text-anchor="middle" font-weight="normal" font-style="normal" fill="#000" transform="translate(16.3 144.7) rotate(-90)">Electron density (a.u.)</text>
<text x="5.70" y="14.60" font-family='"Liberation Sans", sans-serif' font-size="13.60" text-anchor="start" font-weight="bold" font-style="normal" fill="#000">a)</text>
<line x1="411.50" y1="1.55" x2="411.50" y2="295.40" stroke="#c4c4c4" stroke-width="0.9"/>
<line x1="471.60" y1="1.55" x2="471.60" y2="295.40" stroke="#c4c4c4" stroke-width="0.9"/>
<line x1="488.40" y1="1.55" x2="488.40" y2="295.40" stroke="#c4c4c4" stroke-width="0.9"/>
<line x1="510.90" y1="1.55" x2="510.90" y2="295.40" stroke="#c4c4c4" stroke-width="0.9"/>
<line x1="523.20" y1="1.55" x2="523.20" y2="295.40" stroke="#c4c4c4" stroke-width="0.9"/>
<line x1="587.00" y1="1.55" x2="587.00" y2="295.40" stroke="#c4c4c4" stroke-width="0.9"/>
<line x1="601.90" y1="1.55" x2="601.90" y2="295.40" stroke="#c4c4c4" stroke-width="0.9"/>
<text x="0" y="0" font-family='"Liberation Sans", sans-serif' font-size="10.40" fill="#a8a8a8" text-anchor="end" letter-spacing="0.95" transform="translate(421.90 2.80) rotate(-90)">‹110›</text>
<text x="0" y="0" font-family='"Liberation Sans", sans-serif' font-size="10.40" fill="#a8a8a8" text-anchor="end" letter-spacing="0.95" transform="translate(481.80 2.80) rotate(-90)">‹112›</text>
<text x="0" y="0" font-family='"Liberation Sans", sans-serif' font-size="10.40" fill="#a8a8a8" text-anchor="end" letter-spacing="0.95" transform="translate(498.60 2.80) rotate(-90)">‹321›</text>
<text x="0" y="0" font-family='"Liberation Sans", sans-serif' font-size="10.40" fill="#a8a8a8" text-anchor="end" letter-spacing="0.95" transform="translate(521.30 2.80) rotate(-90)">‹001›</text>
<text x="0" y="0" font-family='"Liberation Sans", sans-serif' font-size="10.40" fill="#a8a8a8" text-anchor="start" letter-spacing="0.95" transform="translate(534.20 289.60) rotate(-90)">‹111› Half</text>
<text x="0" y="0" font-family='"Liberation Sans", sans-serif' font-size="10.40" fill="#a8a8a8" text-anchor="start" letter-spacing="0.95" transform="translate(585.50 289.60) rotate(-90)">‹110› Off</text>
<text x="0" y="0" font-family='"Liberation Sans", sans-serif' font-size="10.40" fill="#a8a8a8" text-anchor="start" letter-spacing="0.95" transform="translate(600.20 289.60) rotate(-90)">‹110› Off Si12</text>
<g clip-path="url(#cb)">
<path d="M411.19 45.27L412.80 45.20L414.40 45.13L416.01 45.06L417.61 44.99L419.22 44.92L420.82 44.84L422.43 44.76L424.03 44.68L425.64 44.60L427.24 44.52L428.84 44.44L430.45 44.35L432.05 44.26L433.66 44.17L435.26 44.08L436.87 43.99L438.47 43.89L440.08 43.80L441.68 43.70L443.29 43.60L444.89 43.49L446.50 43.39L448.10 43.28L449.71 43.17L451.31 43.06L452.92 42.94L454.52 42.82L456.13 42.71L457.73 42.58L459.33 42.46L460.94 42.33L462.54 42.20L464.15 42.07L465.75 41.93L467.36 41.80L468.96 41.66L470.57 41.51L472.17 41.37L473.78 41.22L475.38 41.07L476.99 40.91L478.59 40.75L480.20 40.59L481.80 40.43L483.41 40.26L485.01 40.09L486.61 39.92L488.22 39.74L489.82 39.56L491.43 39.37L493.03 39.19L494.64 38.99L496.24 38.80L497.85 38.60L499.45 38.40L501.06 38.19L502.66 37.98L504.27 37.77L505.87 37.55L507.48 37.33L509.08 37.10L510.69 36.87L512.29 36.63L513.90 36.40L515.50 36.15L517.10 35.90L518.71 35.65L520.31 35.40L521.92 35.13L523.52 34.87L525.13 34.60L526.73 34.32L528.34 34.04L529.94 33.76L531.55 33.47L533.15 33.17L534.76 32.87L536.36 32.57L537.97 32.26L539.57 31.95L541.18 31.63L542.78 31.30L544.39 30.97L545.99 30.63L547.59 30.29L549.20 29.95L550.80 29.59L552.41 29.23L554.01 28.87L555.62 28.50L557.22 28.13L558.83 27.75L560.43 27.36L562.04 26.97L563.64 26.57L565.25 26.17L566.85 25.75L568.46 25.34L570.06 24.92L571.67 24.49L573.27 24.05L574.88 23.61L576.48 23.17L578.08 22.71L579.69 22.25L581.29 21.79L582.90 21.32L584.50 20.84L586.11 20.36L587.71 19.86L589.32 19.37L590.92 18.86L592.53 18.35L594.13 17.84L595.74 17.31L597.34 16.79L598.95 16.25L600.55 15.71L602.16 15.16" fill="none" stroke="#1f77b4" stroke-width="2.00" stroke-linecap="butt" stroke-linejoin="round" stroke-dasharray="1.9 3.05" stroke-dashoffset="1.9"/>
<path d="M411.19 69.69L412.80 69.59L414.40 69.48L416.01 69.38L417.61 69.27L419.22 69.16L420.82 69.05L422.43 68.93L424.03 68.81L425.64 68.69L427.24 68.57L428.84 68.45L430.45 68.32L432.05 68.19L433.66 68.06L435.26 67.92L436.87 67.78L438.47 67.64L440.08 67.50L441.68 67.35L443.29 67.20L444.89 67.05L446.50 66.89L448.10 66.73L449.71 66.57L451.31 66.41L452.92 66.24L454.52 66.07L456.13 65.89L457.73 65.71L459.33 65.53L460.94 65.35L462.54 65.16L464.15 64.97L465.75 64.77L467.36 64.57L468.96 64.37L470.57 64.16L472.17 63.95L473.78 63.73L475.38 63.51L476.99 63.29L478.59 63.06L480.20 62.83L481.80 62.60L483.41 62.36L485.01 62.11L486.61 61.86L488.22 61.61L489.82 61.35L491.43 61.09L493.03 60.82L494.64 60.55L496.24 60.28L497.85 60.00L499.45 59.71L501.06 59.42L502.66 59.12L504.27 58.82L505.87 58.52L507.48 58.21L509.08 57.89L510.69 57.57L512.29 57.24L513.90 56.91L515.50 56.57L517.10 56.23L518.71 55.88L520.31 55.53L521.92 55.17L523.52 54.80L525.13 54.43L526.73 54.06L528.34 53.68L529.94 53.29L531.55 52.89L533.15 52.49L534.76 52.09L536.36 51.68L537.97 51.26L539.57 50.84L541.18 50.41L542.78 49.97L544.39 49.53L545.99 49.08L547.59 48.63L549.20 48.17L550.80 47.70L552.41 47.23L554.01 46.75L555.62 46.26L557.22 45.77L558.83 45.27L560.43 44.77L562.04 44.25L563.64 43.74L565.25 43.21L566.85 42.68L568.46 42.14L570.06 41.60L571.67 41.05L573.27 40.49L574.88 39.93L576.48 39.36L578.08 38.78L579.69 38.20L581.29 37.61L582.90 37.01L584.50 36.41L586.11 35.80L587.71 35.19L589.32 34.57L590.92 33.94L592.53 33.30L594.13 32.66L595.74 32.01L597.34 31.36L598.95 30.70L600.55 30.03L602.16 29.36" fill="none" stroke="#ff7f0e" stroke-width="2.00" stroke-linecap="butt" stroke-linejoin="round" stroke-dasharray="1.9 3.05" stroke-dashoffset="1.9"/>
<path d="M411.19 97.94L412.80 97.79L414.40 97.64L416.01 97.48L417.61 97.33L419.22 97.17L420.82 97.00L422.43 96.84L424.03 96.67L425.64 96.49L427.24 96.32L428.84 96.14L430.45 95.95L432.05 95.76L433.66 95.57L435.26 95.38L436.87 95.18L438.47 94.98L440.08 94.77L441.68 94.56L443.29 94.35L444.89 94.13L446.50 93.91L448.10 93.69L449.71 93.46L451.31 93.22L452.92 92.99L454.52 92.74L456.13 92.50L457.73 92.25L459.33 91.99L460.94 91.73L462.54 91.47L464.15 91.20L465.75 90.92L467.36 90.64L468.96 90.36L470.57 90.07L472.17 89.78L473.78 89.48L475.38 89.18L476.99 88.87L478.59 88.55L480.20 88.23L481.80 87.91L483.41 87.58L485.01 87.25L486.61 86.91L488.22 86.56L489.82 86.21L491.43 85.85L493.03 85.49L494.64 85.12L496.24 84.75L497.85 84.37L499.45 83.98L501.06 83.59L502.66 83.20L504.27 82.79L505.87 82.38L507.48 81.97L509.08 81.55L510.69 81.12L512.29 80.69L513.90 80.25L515.50 79.80L517.10 79.35L518.71 78.90L520.31 78.43L521.92 77.96L523.52 77.48L525.13 77.00L526.73 76.51L528.34 76.02L529.94 75.51L531.55 75.01L533.15 74.49L534.76 73.97L536.36 73.44L537.97 72.91L539.57 72.37L541.18 71.82L542.78 71.27L544.39 70.70L545.99 70.14L547.59 69.56L549.20 68.98L550.80 68.40L552.41 67.81L554.01 67.21L555.62 66.60L557.22 65.99L558.83 65.37L560.43 64.74L562.04 64.11L563.64 63.47L565.25 62.83L566.85 62.18L568.46 61.52L570.06 60.85L571.67 60.18L573.27 59.51L574.88 58.82L576.48 58.13L578.08 57.44L579.69 56.74L581.29 56.03L582.90 55.32L584.50 54.59L586.11 53.87L587.71 53.14L589.32 52.40L590.92 51.65L592.53 50.90L594.13 50.15L595.74 49.38L597.34 48.62L598.95 47.84L600.55 47.06L602.16 46.28" fill="none" stroke="#2ca02c" stroke-width="2.00" stroke-linecap="butt" stroke-linejoin="round" stroke-dasharray="1.9 3.05" stroke-dashoffset="1.9"/>
<path d="M411.19 139.15L412.80 138.89L414.40 138.61L416.01 138.34L417.61 138.05L419.22 137.77L420.82 137.47L422.43 137.18L424.03 136.88L425.64 136.57L427.24 136.26L428.84 135.94L430.45 135.62L432.05 135.29L433.66 134.96L435.26 134.62L436.87 134.27L438.47 133.92L440.08 133.57L441.68 133.21L443.29 132.84L444.89 132.47L446.50 132.09L448.10 131.71L449.71 131.32L451.31 130.92L452.92 130.52L454.52 130.12L456.13 129.70L457.73 129.28L459.33 128.86L460.94 128.43L462.54 127.99L464.15 127.55L465.75 127.10L467.36 126.64L468.96 126.18L470.57 125.71L472.17 125.24L473.78 124.76L475.38 124.27L476.99 123.77L478.59 123.27L480.20 122.77L481.80 122.25L483.41 121.74L485.01 121.21L486.61 120.68L488.22 120.14L489.82 119.59L491.43 119.04L493.03 118.48L494.64 117.92L496.24 117.35L497.85 116.77L499.45 116.18L501.06 115.59L502.66 114.99L504.27 114.39L505.87 113.78L507.48 113.16L509.08 112.54L510.69 111.91L512.29 111.27L513.90 110.63L515.50 109.98L517.10 109.32L518.71 108.66L520.31 107.99L521.92 107.32L523.52 106.64L525.13 105.95L526.73 105.26L528.34 104.56L529.94 103.85L531.55 103.14L533.15 102.42L534.76 101.70L536.36 100.97L537.97 100.23L539.57 99.49L541.18 98.74L542.78 97.98L544.39 97.22L545.99 96.46L547.59 95.68L549.20 94.91L550.80 94.12L552.41 93.33L554.01 92.54L555.62 91.74L557.22 90.93L558.83 90.12L560.43 89.31L562.04 88.48L563.64 87.66L565.25 86.82L566.85 85.99L568.46 85.14L570.06 84.30L571.67 83.44L573.27 82.59L574.88 81.72L576.48 80.85L578.08 79.98L579.69 79.11L581.29 78.22L582.90 77.34L584.50 76.45L586.11 75.55L587.71 74.65L589.32 73.74L590.92 72.84L592.53 71.92L594.13 71.01L595.74 70.08L597.34 69.16L598.95 68.23L600.55 67.29L602.16 66.36" fill="none" stroke="#d62728" stroke-width="2.00" stroke-linecap="butt" stroke-linejoin="round" stroke-dasharray="1.9 3.05" stroke-dashoffset="1.9"/>
<path d="M411.19 182.67L412.80 182.31L414.40 181.95L416.01 181.59L417.61 181.22L419.22 180.84L420.82 180.46L422.43 180.07L424.03 179.68L425.64 179.28L427.24 178.88L428.84 178.47L430.45 178.05L432.05 177.63L433.66 177.20L435.26 176.76L436.87 176.32L438.47 175.87L440.08 175.42L441.68 174.96L443.29 174.49L444.89 174.02L446.50 173.54L448.10 173.06L449.71 172.56L451.31 172.07L452.92 171.56L454.52 171.05L456.13 170.53L457.73 170.01L459.33 169.48L460.94 168.94L462.54 168.40L464.15 167.85L465.75 167.29L467.36 166.73L468.96 166.16L470.57 165.59L472.17 165.00L473.78 164.41L475.38 163.82L476.99 163.22L478.59 162.61L480.20 161.99L481.80 161.37L483.41 160.74L485.01 160.11L486.61 159.47L488.22 158.82L489.82 158.17L491.43 157.51L493.03 156.84L494.64 156.17L496.24 155.49L497.85 154.81L499.45 154.11L501.06 153.42L502.66 152.71L504.27 152.00L505.87 151.29L507.48 150.56L509.08 149.83L510.69 149.10L512.29 148.36L513.90 147.61L515.50 146.86L517.10 146.10L518.71 145.34L520.31 144.57L521.92 143.79L523.52 143.01L525.13 142.22L526.73 141.43L528.34 140.63L529.94 139.83L531.55 139.02L533.15 138.20L534.76 137.38L536.36 136.56L537.97 135.73L539.57 134.89L541.18 134.05L542.78 133.20L544.39 132.35L545.99 131.50L547.59 130.64L549.20 129.77L550.80 128.90L552.41 128.02L554.01 127.14L555.62 126.26L557.22 125.37L558.83 124.47L560.43 123.57L562.04 122.67L563.64 121.76L565.25 120.85L566.85 119.94L568.46 119.02L570.06 118.09L571.67 117.16L573.27 116.23L574.88 115.29L576.48 114.35L578.08 113.41L579.69 112.46L581.29 111.51L582.90 110.55L584.50 109.59L586.11 108.63L587.71 107.66L589.32 106.69L590.92 105.72L592.53 104.74L594.13 103.76L595.74 102.78L597.34 101.79L598.95 100.80L600.55 99.81L602.16 98.82" fill="none" stroke="#9467bd" stroke-width="2.00" stroke-linecap="butt" stroke-linejoin="round" stroke-dasharray="1.9 3.05" stroke-dashoffset="1.9"/>
<path d="M411.19 198.25L412.80 197.97L414.40 197.68L416.01 197.39L417.61 197.09L419.22 196.79L420.82 196.48L422.43 196.17L424.03 195.86L425.64 195.53L427.24 195.21L428.84 194.87L430.45 194.54L432.05 194.19L433.66 193.84L435.26 193.49L436.87 193.13L438.47 192.76L440.08 192.39L441.68 192.01L443.29 191.63L444.89 191.24L446.50 190.85L448.10 190.45L449.71 190.04L451.31 189.63L452.92 189.21L454.52 188.79L456.13 188.36L457.73 187.92L459.33 187.48L460.94 187.03L462.54 186.57L464.15 186.11L465.75 185.64L467.36 185.17L468.96 184.69L470.57 184.20L472.17 183.71L473.78 183.21L475.38 182.70L476.99 182.19L478.59 181.67L480.20 181.15L481.80 180.62L483.41 180.08L485.01 179.53L486.61 178.98L488.22 178.42L489.82 177.86L491.43 177.29L493.03 176.71L494.64 176.13L496.24 175.54L497.85 174.94L499.45 174.34L501.06 173.73L502.66 173.11L504.27 172.49L505.87 171.86L507.48 171.22L509.08 170.58L510.69 169.93L512.29 169.28L513.90 168.62L515.50 167.95L517.10 167.27L518.71 166.59L520.31 165.91L521.92 165.21L523.52 164.52L525.13 163.81L526.73 163.10L528.34 162.38L529.94 161.66L531.55 160.93L533.15 160.19L534.76 159.45L536.36 158.70L537.97 157.95L539.57 157.19L541.18 156.42L542.78 155.65L544.39 154.87L545.99 154.09L547.59 153.30L549.20 152.51L550.80 151.71L552.41 150.90L554.01 150.09L555.62 149.28L557.22 148.46L558.83 147.63L560.43 146.80L562.04 145.96L563.64 145.12L565.25 144.27L566.85 143.42L568.46 142.56L570.06 141.70L571.67 140.83L573.27 139.96L574.88 139.08L576.48 138.20L578.08 137.32L579.69 136.42L581.29 135.53L582.90 134.63L584.50 133.73L586.11 132.82L587.71 131.90L589.32 130.99L590.92 130.07L592.53 129.14L594.13 128.21L595.74 127.28L597.34 126.34L598.95 125.40L600.55 124.45L602.16 123.50" fill="none" stroke="#8c564b" stroke-width="2.00" stroke-linecap="butt" stroke-linejoin="round" stroke-dasharray="1.9 3.05" stroke-dashoffset="1.9"/>
<path d="M411.19 215.00L412.80 214.76L414.40 214.52L416.01 214.27L417.61 214.02L419.22 213.77L420.82 213.51L422.43 213.24L424.03 212.97L425.64 212.70L427.24 212.42L428.84 212.13L430.45 211.84L432.05 211.55L433.66 211.25L435.26 210.95L436.87 210.64L438.47 210.32L440.08 210.00L441.68 209.68L443.29 209.35L444.89 209.01L446.50 208.67L448.10 208.33L449.71 207.98L451.31 207.62L452.92 207.26L454.52 206.89L456.13 206.51L457.73 206.13L459.33 205.75L460.94 205.36L462.54 204.96L464.15 204.56L465.75 204.15L467.36 203.73L468.96 203.31L470.57 202.88L472.17 202.45L473.78 202.01L475.38 201.56L476.99 201.11L478.59 200.65L480.20 200.19L481.80 199.72L483.41 199.24L485.01 198.76L486.61 198.27L488.22 197.77L489.82 197.27L491.43 196.76L493.03 196.24L494.64 195.72L496.24 195.19L497.85 194.66L499.45 194.12L501.06 193.57L502.66 193.01L504.27 192.45L505.87 191.89L507.48 191.31L509.08 190.73L510.69 190.14L512.29 189.55L513.90 188.95L515.50 188.34L517.10 187.73L518.71 187.11L520.31 186.48L521.92 185.85L523.52 185.21L525.13 184.57L526.73 183.92L528.34 183.26L529.94 182.59L531.55 181.92L533.15 181.24L534.76 180.56L536.36 179.87L537.97 179.17L539.57 178.47L541.18 177.76L542.78 177.05L544.39 176.33L545.99 175.60L547.59 174.87L549.20 174.13L550.80 173.38L552.41 172.63L554.01 171.88L555.62 171.11L557.22 170.35L558.83 169.57L560.43 168.79L562.04 168.01L563.64 167.21L565.25 166.42L566.85 165.62L568.46 164.81L570.06 163.99L571.67 163.18L573.27 162.35L574.88 161.52L576.48 160.69L578.08 159.85L579.69 159.00L581.29 158.15L582.90 157.30L584.50 156.44L586.11 155.57L587.71 154.70L589.32 153.83L590.92 152.95L592.53 152.07L594.13 151.18L595.74 150.29L597.34 149.39L598.95 148.49L600.55 147.58L602.16 146.67" fill="none" stroke="#e377c2" stroke-width="2.00" stroke-linecap="butt" stroke-linejoin="round" stroke-dasharray="1.9 3.05" stroke-dashoffset="1.9"/>
<path d="M411.19 240.19L412.80 239.97L414.40 239.75L416.01 239.52L417.61 239.29L419.22 239.06L420.82 238.82L422.43 238.58L424.03 238.33L425.64 238.08L427.24 237.82L428.84 237.56L430.45 237.30L432.05 237.03L433.66 236.75L435.26 236.48L436.87 236.19L438.47 235.90L440.08 235.61L441.68 235.31L443.29 235.01L444.89 234.70L446.50 234.38L448.10 234.07L449.71 233.74L451.31 233.41L452.92 233.08L454.52 232.74L456.13 232.39L457.73 232.04L459.33 231.68L460.94 231.32L462.54 230.95L464.15 230.58L465.75 230.20L467.36 229.81L468.96 229.42L470.57 229.02L472.17 228.62L473.78 228.21L475.38 227.80L476.99 227.38L478.59 226.95L480.20 226.52L481.80 226.08L483.41 225.63L485.01 225.18L486.61 224.72L488.22 224.26L489.82 223.79L491.43 223.31L493.03 222.83L494.64 222.34L496.24 221.84L497.85 221.34L499.45 220.83L501.06 220.31L502.66 219.79L504.27 219.27L505.87 218.73L507.48 218.19L509.08 217.64L510.69 217.09L512.29 216.53L513.90 215.96L515.50 215.39L517.10 214.81L518.71 214.22L520.31 213.63L521.92 213.03L523.52 212.42L525.13 211.81L526.73 211.19L528.34 210.56L529.94 209.93L531.55 209.29L533.15 208.65L534.76 208.00L536.36 207.34L537.97 206.67L539.57 206.00L541.18 205.33L542.78 204.64L544.39 203.95L545.99 203.26L547.59 202.55L549.20 201.85L550.80 201.13L552.41 200.41L554.01 199.69L555.62 198.95L557.22 198.21L558.83 197.47L560.43 196.72L562.04 195.96L563.64 195.20L565.25 194.43L566.85 193.66L568.46 192.88L570.06 192.09L571.67 191.30L573.27 190.51L574.88 189.70L576.48 188.90L578.08 188.08L579.69 187.26L581.29 186.44L582.90 185.61L584.50 184.78L586.11 183.94L587.71 183.09L589.32 182.24L590.92 181.39L592.53 180.53L594.13 179.67L595.74 178.80L597.34 177.92L598.95 177.04L600.55 176.16L602.16 175.27" fill="none" stroke="#7f7f7f" stroke-width="2.00" stroke-linecap="butt" stroke-linejoin="round" stroke-dasharray="1.9 3.05" stroke-dashoffset="1.9"/>
<path d="M411.19 261.24L412.80 261.02L414.40 260.80L416.01 260.57L417.61 260.35L419.22 260.11L420.82 259.87L422.43 259.63L424.03 259.38L425.64 259.13L427.24 258.88L428.84 258.62L430.45 258.35L432.05 258.08L433.66 257.81L435.26 257.53L436.87 257.24L438.47 256.96L440.08 256.66L441.68 256.36L443.29 256.06L444.89 255.75L446.50 255.44L448.10 255.12L449.71 254.79L451.31 254.46L452.92 254.13L454.52 253.79L456.13 253.44L457.73 253.09L459.33 252.73L460.94 252.37L462.54 252.00L464.15 251.63L465.75 251.25L467.36 250.86L468.96 250.47L470.57 250.08L472.17 249.67L473.78 249.26L475.38 248.85L476.99 248.43L478.59 248.00L480.20 247.57L481.80 247.13L483.41 246.68L485.01 246.23L486.61 245.77L488.22 245.31L489.82 244.84L491.43 244.36L493.03 243.88L494.64 243.39L496.24 242.89L497.85 242.39L499.45 241.88L501.06 241.36L502.66 240.84L504.27 240.31L505.87 239.78L507.48 239.24L509.08 238.69L510.69 238.14L512.29 237.58L513.90 237.01L515.50 236.43L517.10 235.85L518.71 235.27L520.31 234.67L521.92 234.07L523.52 233.47L525.13 232.86L526.73 232.24L528.34 231.61L529.94 230.98L531.55 230.34L533.15 229.69L534.76 229.04L536.36 228.38L537.97 227.72L539.57 227.05L541.18 226.37L542.78 225.69L544.39 225.00L545.99 224.30L547.59 223.60L549.20 222.89L550.80 222.18L552.41 221.46L554.01 220.73L555.62 220.00L557.22 219.26L558.83 218.51L560.43 217.76L562.04 217.01L563.64 216.25L565.25 215.48L566.85 214.70L568.46 213.92L570.06 213.14L571.67 212.35L573.27 211.55L574.88 210.75L576.48 209.94L578.08 209.13L579.69 208.31L581.29 207.49L582.90 206.66L584.50 205.82L586.11 204.98L587.71 204.14L589.32 203.29L590.92 202.43L592.53 201.57L594.13 200.71L595.74 199.84L597.34 198.97L598.95 198.09L600.55 197.20L602.16 196.32" fill="none" stroke="#bcbd22" stroke-width="2.00" stroke-linecap="butt" stroke-linejoin="round" stroke-dasharray="1.9 3.05" stroke-dashoffset="1.9"/>
<path d="M411.19 276.87L412.80 276.70L414.40 276.53L416.01 276.36L417.61 276.19L419.22 276.01L420.82 275.82L422.43 275.64L424.03 275.45L425.64 275.25L427.24 275.06L428.84 274.86L430.45 274.65L432.05 274.44L433.66 274.23L435.26 274.01L436.87 273.79L438.47 273.57L440.08 273.34L441.68 273.11L443.29 272.87L444.89 272.63L446.50 272.39L448.10 272.14L449.71 271.88L451.31 271.62L452.92 271.36L454.52 271.09L456.13 270.82L457.73 270.54L459.33 270.26L460.94 269.97L462.54 269.68L464.15 269.38L465.75 269.08L467.36 268.77L468.96 268.46L470.57 268.14L472.17 267.82L473.78 267.49L475.38 267.16L476.99 266.82L478.59 266.47L480.20 266.12L481.80 265.77L483.41 265.41L485.01 265.04L486.61 264.67L488.22 264.29L489.82 263.91L491.43 263.52L493.03 263.12L494.64 262.72L496.24 262.31L497.85 261.90L499.45 261.48L501.06 261.05L502.66 260.62L504.27 260.19L505.87 259.74L507.48 259.29L509.08 258.84L510.69 258.37L512.29 257.90L513.90 257.43L515.50 256.95L517.10 256.46L518.71 255.97L520.31 255.47L521.92 254.96L523.52 254.45L525.13 253.93L526.73 253.40L528.34 252.87L529.94 252.33L531.55 251.78L533.15 251.23L534.76 250.67L536.36 250.10L537.97 249.53L539.57 248.95L541.18 248.37L542.78 247.78L544.39 247.18L545.99 246.58L547.59 245.97L549.20 245.35L550.80 244.72L552.41 244.09L554.01 243.46L555.62 242.81L557.22 242.16L558.83 241.51L560.43 240.84L562.04 240.18L563.64 239.50L565.25 238.82L566.85 238.13L568.46 237.44L570.06 236.74L571.67 236.03L573.27 235.32L574.88 234.60L576.48 233.87L578.08 233.14L579.69 232.41L581.29 231.66L582.90 230.91L584.50 230.16L586.11 229.40L587.71 228.63L589.32 227.86L590.92 227.08L592.53 226.30L594.13 225.51L595.74 224.71L597.34 223.91L598.95 223.11L600.55 222.30L602.16 221.48" fill="none" stroke="#17becf" stroke-width="2.00" stroke-linecap="butt" stroke-linejoin="round" stroke-dasharray="1.9 3.05" stroke-dashoffset="1.9"/>
<circle cx="411.50" cy="44.60" r="2.7" fill="none" stroke="#1f77b4" stroke-width="1.25"/>
<circle cx="471.60" cy="41.00" r="2.7" fill="none" stroke="#1f77b4" stroke-width="1.25"/>
<circle cx="488.40" cy="39.00" r="2.7" fill="none" stroke="#1f77b4" stroke-width="1.25"/>
<circle cx="510.90" cy="37.70" r="2.7" fill="none" stroke="#1f77b4" stroke-width="1.25"/>
<circle cx="523.20" cy="36.10" r="2.7" fill="none" stroke="#1f77b4" stroke-width="1.25"/>
<circle cx="601.90" cy="14.90" r="2.7" fill="none" stroke="#1f77b4" stroke-width="1.25"/>
<rect x="408.90" y="67.90" width="5.2" height="5.2" fill="none" stroke="#ff7f0e" stroke-width="1.25"/>
<rect x="469.00" y="59.80" width="5.2" height="5.2" fill="none" stroke="#ff7f0e" stroke-width="1.25"/>
<rect x="485.80" y="57.80" width="5.2" height="5.2" fill="none" stroke="#ff7f0e" stroke-width="1.25"/>
<rect x="508.30" y="55.90" width="5.2" height="5.2" fill="none" stroke="#ff7f0e" stroke-width="1.25"/>
<rect x="520.60" y="53.50" width="5.2" height="5.2" fill="none" stroke="#ff7f0e" stroke-width="1.25"/>
<rect x="599.30" y="26.60" width="5.2" height="5.2" fill="none" stroke="#ff7f0e" stroke-width="1.25"/>
<path d="M411.50 93.70L413.80 97.30L411.50 100.90L409.20 97.30Z" fill="none" stroke="#2ca02c" stroke-width="1.25"/>
<path d="M471.60 83.30L473.90 86.90L471.60 90.50L469.30 86.90Z" fill="none" stroke="#2ca02c" stroke-width="1.25"/>
<path d="M488.40 81.70L490.70 85.30L488.40 88.90L486.10 85.30Z" fill="none" stroke="#2ca02c" stroke-width="1.25"/>
<path d="M510.90 79.00L513.20 82.60L510.90 86.20L508.60 82.60Z" fill="none" stroke="#2ca02c" stroke-width="1.25"/>
<path d="M523.20 77.50L525.50 81.10L523.20 84.70L520.90 81.10Z" fill="none" stroke="#2ca02c" stroke-width="1.25"/>
<path d="M601.90 42.20L604.20 45.80L601.90 49.40L599.60 45.80Z" fill="none" stroke="#2ca02c" stroke-width="1.25"/>
<path d="M411.50 126.90L415.10 130.50L411.50 134.10L407.90 130.50Z" fill="none" stroke="#d62728" stroke-width="1.25"/>
<path d="M471.60 117.20L475.20 120.80L471.60 124.40L468.00 120.80Z" fill="none" stroke="#d62728" stroke-width="1.25"/>
<path d="M488.40 116.80L492.00 120.40L488.40 124.00L484.80 120.40Z" fill="none" stroke="#d62728" stroke-width="1.25"/>
<path d="M510.90 114.30L514.50 117.90L510.90 121.50L507.30 117.90Z" fill="none" stroke="#d62728" stroke-width="1.25"/>
<path d="M523.20 108.80L526.80 112.40L523.20 116.00L519.60 112.40Z" fill="none" stroke="#d62728" stroke-width="1.25"/>
<path d="M601.90 61.70L605.50 65.30L601.90 68.90L598.30 65.30Z" fill="none" stroke="#d62728" stroke-width="1.25"/>
<path d="M410.55 161.15h1.90v1.70h1.70v1.90h-1.70v1.70h-1.90v-1.70h-1.70v-1.90h1.70Z" fill="none" stroke="#9467bd" stroke-width="1.7" stroke-linejoin="miter" transform="rotate(45 411.50 163.80)"/>
<path d="M470.65 159.55h1.90v1.70h1.70v1.90h-1.70v1.70h-1.90v-1.70h-1.70v-1.90h1.70Z" fill="none" stroke="#9467bd" stroke-width="1.7" stroke-linejoin="miter" transform="rotate(45 471.60 162.20)"/>
<path d="M487.45 158.65h1.90v1.70h1.70v1.90h-1.70v1.70h-1.90v-1.70h-1.70v-1.90h1.70Z" fill="none" stroke="#9467bd" stroke-width="1.7" stroke-linejoin="miter" transform="rotate(45 488.40 161.30)"/>
<path d="M509.95 155.95h1.90v1.70h1.70v1.90h-1.70v1.70h-1.90v-1.70h-1.70v-1.90h1.70Z" fill="none" stroke="#9467bd" stroke-width="1.7" stroke-linejoin="miter" transform="rotate(45 510.90 158.60)"/>
<path d="M522.25 145.45h1.90v1.70h1.70v1.90h-1.70v1.70h-1.90v-1.70h-1.70v-1.90h1.70Z" fill="none" stroke="#9467bd" stroke-width="1.7" stroke-linejoin="miter" transform="rotate(45 523.20 148.10)"/>
<path d="M586.05 108.85h1.90v1.70h1.70v1.90h-1.70v1.70h-1.90v-1.70h-1.70v-1.90h1.70Z" fill="none" stroke="#9467bd" stroke-width="1.7" stroke-linejoin="miter" transform="rotate(45 587.00 111.50)"/>
<path d="M600.95 92.75h1.90v1.70h1.70v1.90h-1.70v1.70h-1.90v-1.70h-1.70v-1.90h1.70Z" fill="none" stroke="#9467bd" stroke-width="1.7" stroke-linejoin="miter" transform="rotate(45 601.90 95.40)"/>
<path d="M410.55 182.20h1.90v1.55h1.55v1.90h-1.55v1.55h-1.90v-1.55h-1.55v-1.90h1.55Z" fill="none" stroke="#8c564b" stroke-width="1.7" stroke-linejoin="miter"/>
<path d="M470.65 179.10h1.90v1.55h1.55v1.90h-1.55v1.55h-1.90v-1.55h-1.55v-1.90h1.55Z" fill="none" stroke="#8c564b" stroke-width="1.7" stroke-linejoin="miter"/>
<path d="M487.45 178.50h1.90v1.55h1.55v1.90h-1.55v1.55h-1.90v-1.55h-1.55v-1.90h1.55Z" fill="none" stroke="#8c564b" stroke-width="1.7" stroke-linejoin="miter"/>
<path d="M509.95 175.40h1.90v1.55h1.55v1.90h-1.55v1.55h-1.90v-1.55h-1.55v-1.90h1.55Z" fill="none" stroke="#8c564b" stroke-width="1.7" stroke-linejoin="miter"/>
<path d="M522.25 165.50h1.90v1.55h1.55v1.90h-1.55v1.55h-1.90v-1.55h-1.55v-1.90h1.55Z" fill="none" stroke="#8c564b" stroke-width="1.7" stroke-linejoin="miter"/>
<path d="M586.05 130.50h1.90v1.55h1.55v1.90h-1.55v1.55h-1.90v-1.55h-1.55v-1.90h1.55Z" fill="none" stroke="#8c564b" stroke-width="1.7" stroke-linejoin="miter"/>
<path d="M600.95 119.40h1.90v1.55h1.55v1.90h-1.55v1.55h-1.90v-1.55h-1.55v-1.90h1.55Z" fill="none" stroke="#8c564b" stroke-width="1.7" stroke-linejoin="miter"/>
<circle cx="411.50" cy="205.50" r="2.7" fill="none" stroke="#e377c2" stroke-width="1.25"/>
<circle cx="471.60" cy="201.50" r="2.7" fill="none" stroke="#e377c2" stroke-width="1.25"/>
<circle cx="488.40" cy="200.50" r="2.7" fill="none" stroke="#e377c2" stroke-width="1.25"/>
<circle cx="510.90" cy="196.90" r="2.7" fill="none" stroke="#e377c2" stroke-width="1.25"/>
<circle cx="523.20" cy="186.30" r="2.7" fill="none" stroke="#e377c2" stroke-width="1.25"/>
<circle cx="587.00" cy="153.90" r="2.7" fill="none" stroke="#e377c2" stroke-width="1.25"/>
<circle cx="601.90" cy="146.60" r="2.7" fill="none" stroke="#e377c2" stroke-width="1.25"/>
<path d="M411.50 230.80L414.35 232.87L413.26 236.23L409.74 236.23L408.65 232.87Z" fill="none" stroke="#7f7f7f" stroke-width="1.25"/>
<path d="M471.60 225.30L474.45 227.37L473.36 230.73L469.84 230.73L468.75 227.37Z" fill="none" stroke="#7f7f7f" stroke-width="1.25"/>
<path d="M488.40 223.90L491.25 225.97L490.16 229.33L486.64 229.33L485.55 225.97Z" fill="none" stroke="#7f7f7f" stroke-width="1.25"/>
<path d="M510.90 218.50L513.75 220.57L512.66 223.93L509.14 223.93L508.05 220.57Z" fill="none" stroke="#7f7f7f" stroke-width="1.25"/>
<path d="M523.20 207.80L526.05 209.87L524.96 213.23L521.44 213.23L520.35 209.87Z" fill="none" stroke="#7f7f7f" stroke-width="1.25"/>
<path d="M587.00 182.50L589.85 184.57L588.76 187.93L585.24 187.93L584.15 184.57Z" fill="none" stroke="#7f7f7f" stroke-width="1.25"/>
<path d="M601.90 170.60L604.75 172.67L603.66 176.03L600.14 176.03L599.05 172.67Z" fill="none" stroke="#7f7f7f" stroke-width="1.25"/>
<circle cx="411.50" cy="259.80" r="1.4" fill="none" stroke="#bcbd22" stroke-width="1.7"/>
<circle cx="471.60" cy="247.10" r="1.4" fill="none" stroke="#bcbd22" stroke-width="1.7"/>
<circle cx="488.40" cy="246.30" r="1.4" fill="none" stroke="#bcbd22" stroke-width="1.7"/>
<circle cx="510.90" cy="239.90" r="1.4" fill="none" stroke="#bcbd22" stroke-width="1.7"/>
<circle cx="523.20" cy="232.90" r="1.4" fill="none" stroke="#bcbd22" stroke-width="1.7"/>
<circle cx="587.00" cy="208.00" r="1.4" fill="none" stroke="#bcbd22" stroke-width="1.7"/>
<circle cx="601.90" cy="194.00" r="1.4" fill="none" stroke="#bcbd22" stroke-width="1.7"/>
<path d="M411.50 279.40L412.29 281.31L414.35 281.47L412.78 282.82L413.26 284.83L411.50 283.75L409.74 284.83L410.22 282.82L408.65 281.47L410.71 281.31Z" fill="none" stroke="#17becf" stroke-width="1.45" stroke-linejoin="round"/>
<path d="M471.60 261.60L472.39 263.51L474.45 263.67L472.88 265.02L473.36 267.03L471.60 265.95L469.84 267.03L470.32 265.02L468.75 263.67L470.81 263.51Z" fill="none" stroke="#17becf" stroke-width="1.45" stroke-linejoin="round"/>
<path d="M488.40 262.20L489.19 264.11L491.25 264.27L489.68 265.62L490.16 267.63L488.40 266.55L486.64 267.63L487.12 265.62L485.55 264.27L487.61 264.11Z" fill="none" stroke="#17becf" stroke-width="1.45" stroke-linejoin="round"/>
<path d="M510.90 251.70L511.69 253.61L513.75 253.77L512.18 255.12L512.66 257.13L510.90 256.05L509.14 257.13L509.62 255.12L508.05 253.77L510.11 253.61Z" fill="none" stroke="#17becf" stroke-width="1.45" stroke-linejoin="round"/>
<path d="M523.20 252.20L523.99 254.11L526.05 254.27L524.48 255.62L524.96 257.63L523.20 256.55L521.44 257.63L521.92 255.62L520.35 254.27L522.41 254.11Z" fill="none" stroke="#17becf" stroke-width="1.45" stroke-linejoin="round"/>
<path d="M587.00 227.80L587.79 229.71L589.85 229.87L588.28 231.22L588.76 233.23L587.00 232.15L585.24 233.23L585.72 231.22L584.15 229.87L586.21 229.71Z" fill="none" stroke="#17becf" stroke-width="1.45" stroke-linejoin="round"/>
<path d="M601.90 217.60L602.69 219.51L604.75 219.67L603.18 221.02L603.66 223.03L601.90 221.95L600.14 223.03L600.62 221.02L599.05 219.67L601.11 219.51Z" fill="none" stroke="#17becf" stroke-width="1.45" stroke-linejoin="round"/>
</g>
<rect x="402.00" y="1.55" width="209.00" height="293.85" fill="none" stroke="#000" stroke-width="1.25"/>
<line x1="397.40" y1="184.60" x2="402.00" y2="184.60" stroke="#000" stroke-width="1"/>
<line x1="397.40" y1="67.70" x2="402.00" y2="67.70" stroke="#000" stroke-width="1"/>
<line x1="399.40" y1="266.31" x2="402.00" y2="266.31" stroke="#000" stroke-width="0.8"/>
<line x1="399.40" y1="245.72" x2="402.00" y2="245.72" stroke="#000" stroke-width="0.8"/>
<line x1="399.40" y1="231.12" x2="402.00" y2="231.12" stroke="#000" stroke-width="0.8"/>
<line x1="399.40" y1="219.79" x2="402.00" y2="219.79" stroke="#000" stroke-width="0.8"/>
<line x1="399.40" y1="210.53" x2="402.00" y2="210.53" stroke="#000" stroke-width="0.8"/>
<line x1="399.40" y1="202.71" x2="402.00" y2="202.71" stroke="#000" stroke-width="0.8"/>
<line x1="399.40" y1="195.93" x2="402.00" y2="195.93" stroke="#000" stroke-width="0.8"/>
<line x1="399.40" y1="189.95" x2="402.00" y2="189.95" stroke="#000" stroke-width="0.8"/>
<line x1="399.40" y1="149.41" x2="402.00" y2="149.41" stroke="#000" stroke-width="0.8"/>
<line x1="399.40" y1="128.82" x2="402.00" y2="128.82" stroke="#000" stroke-width="0.8"/>
<line x1="399.40" y1="114.22" x2="402.00" y2="114.22" stroke="#000" stroke-width="0.8"/>
<line x1="399.40" y1="102.89" x2="402.00" y2="102.89" stroke="#000" stroke-width="0.8"/>
<line x1="399.40" y1="93.63" x2="402.00" y2="93.63" stroke="#000" stroke-width="0.8"/>
<line x1="399.40" y1="85.81" x2="402.00" y2="85.81" stroke="#000" stroke-width="0.8"/>
<line x1="399.40" y1="79.03" x2="402.00" y2="79.03" stroke="#000" stroke-width="0.8"/>
<line x1="399.40" y1="73.05" x2="402.00" y2="73.05" stroke="#000" stroke-width="0.8"/>
<line x1="399.40" y1="32.51" x2="402.00" y2="32.51" stroke="#000" stroke-width="0.8"/>
<line x1="399.40" y1="11.92" x2="402.00" y2="11.92" stroke="#000" stroke-width="0.8"/>
<line x1="446.30" y1="295.40" x2="446.30" y2="300.00" stroke="#000" stroke-width="1"/>
<line x1="609.30" y1="295.40" x2="609.30" y2="300.00" stroke="#000" stroke-width="1"/>
<line x1="410.14" y1="295.40" x2="410.14" y2="298.50" stroke="#000" stroke-width="0.8"/>
<line x1="421.05" y1="295.40" x2="421.05" y2="298.50" stroke="#000" stroke-width="0.8"/>
<line x1="430.50" y1="295.40" x2="430.50" y2="298.50" stroke="#000" stroke-width="0.8"/>
<line x1="438.84" y1="295.40" x2="438.84" y2="298.50" stroke="#000" stroke-width="0.8"/>
<line x1="495.37" y1="295.40" x2="495.37" y2="298.50" stroke="#000" stroke-width="0.8"/>
<line x1="524.07" y1="295.40" x2="524.07" y2="298.50" stroke="#000" stroke-width="0.8"/>
<line x1="544.44" y1="295.40" x2="544.44" y2="298.50" stroke="#000" stroke-width="0.8"/>
<line x1="560.23" y1="295.40" x2="560.23" y2="298.50" stroke="#000" stroke-width="0.8"/>
<line x1="573.14" y1="295.40" x2="573.14" y2="298.50" stroke="#000" stroke-width="0.8"/>
<line x1="584.05" y1="295.40" x2="584.05" y2="298.50" stroke="#000" stroke-width="0.8"/>
<line x1="593.50" y1="295.40" x2="593.50" y2="298.50" stroke="#000" stroke-width="0.8"/>
<line x1="601.84" y1="295.40" x2="601.84" y2="298.50" stroke="#000" stroke-width="0.8"/>
<text x="392.5" y="72.3" font-family='"Liberation Sans", sans-serif' font-size="12.5" text-anchor="end"><tspan letter-spacing="0.6">1</tspan>0<tspan font-size="8.6" dy="-4.7">2</tspan></text>
<text x="392.5" y="188.9" font-family='"Liberation Sans", sans-serif' font-size="12.5" text-anchor="end"><tspan letter-spacing="0.6">1</tspan>0<tspan font-size="8.6" dy="-4.7">1</tspan></text>
<text x="446.2" y="313.7" font-family='"Liberation Sans", sans-serif' font-size="12.5" text-anchor="middle"><tspan letter-spacing="0.6">1</tspan>0<tspan font-size="8.6" dx="0.4" dy="-5.0">−2</tspan></text>
<text x="608.3" y="313.7" font-family='"Liberation Sans", sans-serif' font-size="12.5" text-anchor="middle"><tspan letter-spacing="0.6">1</tspan>0<tspan font-size="8.6" dx="0.4" dy="-5.0">−1</tspan></text>
<text x="507.00" y="331.40" font-family='"Liberation Sans", sans-serif' font-size="12.45" text-anchor="middle" font-weight="normal" font-style="normal" fill="#000">Mean electron density (a.u.)</text>
<text x="0.00" y="0.00" font-family='"Liberation Sans", sans-serif' font-size="12.55" text-anchor="middle" font-weight="normal" font-style="normal" fill="#000" transform="translate(365.4 147.8) rotate(-90)">Electronic Stopping (eV/Å)</text>
<text x="364.90" y="15.40" font-family='"Liberation Sans", sans-serif' font-size="13.40" text-anchor="start" font-weight="bold" font-style="normal" fill="#000">b)</text>
<rect x="616.80" y="18.00" width="66.60" height="261.30" rx="2" ry="2" fill="#fff" fill-opacity="0.8" stroke="#d0d0d0" stroke-width="0.9"/>
<text x="620.00" y="26.60" font-family='"Liberation Sans", sans-serif' font-size="8.60" text-anchor="start" font-weight="normal" font-style="normal" fill="#000">Projectile's</text>
<text x="620.00" y="36.80" font-family='"Liberation Sans", sans-serif' font-size="8.60" text-anchor="start" font-weight="normal" font-style="normal" fill="#000">kinetic energy</text>
<text x="620.00" y="47.00" font-family='"Liberation Sans", sans-serif' font-size="8.60" text-anchor="start" font-weight="normal" font-style="normal" fill="#000">and linear fit <tspan font-style="italic">R</tspan><tspan font-size="6.3" dx="1.1" dy="-4.0">2</tspan></text>
<circle cx="630.50" cy="56.10" r="2.7" fill="none" stroke="#1f77b4" stroke-width="1.25"/>
<text x="643.90" y="58.70" font-family='"Liberation Sans", sans-serif' font-size="7.00" text-anchor="start" font-weight="normal" font-style="normal" fill="#000">5 MeV</text>
<path d="M623.6 67.46L636 67.46" fill="none" stroke="#1f77b4" stroke-width="1.90" stroke-linecap="butt" stroke-linejoin="round" stroke-dasharray="1.6 3.5"/>
<text x="643.90" y="70.06" font-family='"Liberation Sans", sans-serif' font-size="7.25" text-anchor="start" font-weight="normal" font-style="normal" fill="#000"><tspan font-style="italic">R</tspan><tspan font-size="5.2" dx="0.5" dy="-3.4">2</tspan><tspan dx="0.1" dy="3.4">=</tspan><tspan> 0.996</tspan></text>
<rect x="627.90" y="76.22" width="5.2" height="5.2" fill="none" stroke="#ff7f0e" stroke-width="1.25"/>
<text x="643.90" y="81.42" font-family='"Liberation Sans", sans-serif' font-size="7.00" text-anchor="start" font-weight="normal" font-style="normal" fill="#000">2 MeV</text>
<path d="M623.6 90.18L636 90.18" fill="none" stroke="#ff7f0e" stroke-width="1.90" stroke-linecap="butt" stroke-linejoin="round" stroke-dasharray="1.6 3.5"/>
<text x="643.90" y="92.78" font-family='"Liberation Sans", sans-serif' font-size="7.25" text-anchor="start" font-weight="normal" font-style="normal" fill="#000"><tspan font-style="italic">R</tspan><tspan font-size="5.2" dx="0.5" dy="-3.4">2</tspan><tspan dx="0.1" dy="3.4">=</tspan><tspan> 0.996</tspan></text>
<path d="M630.50 97.94L632.80 101.54L630.50 105.14L628.20 101.54Z" fill="none" stroke="#2ca02c" stroke-width="1.25"/>
<text x="643.90" y="104.14" font-family='"Liberation Sans", sans-serif' font-size="7.00" text-anchor="start" font-weight="normal" font-style="normal" fill="#000">1 MeV</text>
<path d="M623.6 112.90L636 112.90" fill="none" stroke="#2ca02c" stroke-width="1.90" stroke-linecap="butt" stroke-linejoin="round" stroke-dasharray="1.6 3.5"/>
<text x="643.90" y="115.50" font-family='"Liberation Sans", sans-serif' font-size="7.25" text-anchor="start" font-weight="normal" font-style="normal" fill="#000"><tspan font-style="italic">R</tspan><tspan font-size="5.2" dx="0.5" dy="-3.4">2</tspan><tspan dx="0.1" dy="3.4">=</tspan><tspan> 0.992</tspan></text>
<path d="M630.50 120.66L634.10 124.26L630.50 127.86L626.90 124.26Z" fill="none" stroke="#d62728" stroke-width="1.25"/>
<text x="643.90" y="126.86" font-family='"Liberation Sans", sans-serif' font-size="7.00" text-anchor="start" font-weight="normal" font-style="normal" fill="#000">500 keV</text>
<path d="M623.6 135.62L636 135.62" fill="none" stroke="#d62728" stroke-width="1.90" stroke-linecap="butt" stroke-linejoin="round" stroke-dasharray="1.6 3.5"/>
<text x="643.90" y="138.22" font-family='"Liberation Sans", sans-serif' font-size="7.25" text-anchor="start" font-weight="normal" font-style="normal" fill="#000"><tspan font-style="italic">R</tspan><tspan font-size="5.2" dx="0.5" dy="-3.4">2</tspan><tspan dx="0.1" dy="3.4">=</tspan><tspan> 0.979</tspan></text>
<path d="M629.55 144.33h1.90v1.70h1.70v1.90h-1.70v1.70h-1.90v-1.70h-1.70v-1.90h1.70Z" fill="none" stroke="#9467bd" stroke-width="1.7" stroke-linejoin="miter" transform="rotate(45 630.50 146.98)"/>
<text x="643.90" y="149.58" font-family='"Liberation Sans", sans-serif' font-size="7.00" text-anchor="start" font-weight="normal" font-style="normal" fill="#000">200 keV</text>
<path d="M623.6 158.34L636 158.34" fill="none" stroke="#9467bd" stroke-width="1.90" stroke-linecap="butt" stroke-linejoin="round" stroke-dasharray="1.6 3.5"/>
<text x="643.90" y="160.94" font-family='"Liberation Sans", sans-serif' font-size="7.25" text-anchor="start" font-weight="normal" font-style="normal" fill="#000"><tspan font-style="italic">R</tspan><tspan font-size="5.2" dx="0.5" dy="-3.4">2</tspan><tspan dx="0.1" dy="3.4">=</tspan><tspan> 0.961</tspan></text>
<path d="M629.55 167.20h1.90v1.55h1.55v1.90h-1.55v1.55h-1.90v-1.55h-1.55v-1.90h1.55Z" fill="none" stroke="#8c564b" stroke-width="1.7" stroke-linejoin="miter"/>
<text x="643.90" y="172.30" font-family='"Liberation Sans", sans-serif' font-size="7.00" text-anchor="start" font-weight="normal" font-style="normal" fill="#000">100 keV</text>
<path d="M623.6 181.06L636 181.06" fill="none" stroke="#8c564b" stroke-width="1.90" stroke-linecap="butt" stroke-linejoin="round" stroke-dasharray="1.6 3.5"/>
<text x="643.90" y="183.66" font-family='"Liberation Sans", sans-serif' font-size="7.25" text-anchor="start" font-weight="normal" font-style="normal" fill="#000"><tspan font-style="italic">R</tspan><tspan font-size="5.2" dx="0.5" dy="-3.4">2</tspan><tspan dx="0.1" dy="3.4">=</tspan><tspan> 0.977</tspan></text>
<circle cx="630.50" cy="192.42" r="2.7" fill="none" stroke="#e377c2" stroke-width="1.25"/>
<text x="643.90" y="195.02" font-family='"Liberation Sans", sans-serif' font-size="7.00" text-anchor="start" font-weight="normal" font-style="normal" fill="#000">50 keV</text>
<path d="M623.6 203.78L636 203.78" fill="none" stroke="#e377c2" stroke-width="1.90" stroke-linecap="butt" stroke-linejoin="round" stroke-dasharray="1.6 3.5"/>
<text x="643.90" y="206.38" font-family='"Liberation Sans", sans-serif' font-size="7.25" text-anchor="start" font-weight="normal" font-style="normal" fill="#000"><tspan font-style="italic">R</tspan><tspan font-size="5.2" dx="0.5" dy="-3.4">2</tspan><tspan dx="0.1" dy="3.4">=</tspan><tspan> 0.986</tspan></text>
<path d="M630.50 212.14L633.35 214.21L632.26 217.57L628.74 217.57L627.65 214.21Z" fill="none" stroke="#7f7f7f" stroke-width="1.25"/>
<text x="643.90" y="217.74" font-family='"Liberation Sans", sans-serif' font-size="7.00" text-anchor="start" font-weight="normal" font-style="normal" fill="#000">20 keV</text>
<path d="M623.6 226.50L636 226.50" fill="none" stroke="#7f7f7f" stroke-width="1.90" stroke-linecap="butt" stroke-linejoin="round" stroke-dasharray="1.6 3.5"/>
<text x="643.90" y="229.10" font-family='"Liberation Sans", sans-serif' font-size="7.25" text-anchor="start" font-weight="normal" font-style="normal" fill="#000"><tspan font-style="italic">R</tspan><tspan font-size="5.2" dx="0.5" dy="-3.4">2</tspan><tspan dx="0.1" dy="3.4">=</tspan><tspan> 0.990</tspan></text>
<circle cx="630.50" cy="237.86" r="1.4" fill="none" stroke="#bcbd22" stroke-width="1.7"/>
<text x="643.90" y="240.46" font-family='"Liberation Sans", sans-serif' font-size="7.00" text-anchor="start" font-weight="normal" font-style="normal" fill="#000">10 keV</text>
<path d="M623.6 249.22L636 249.22" fill="none" stroke="#bcbd22" stroke-width="1.90" stroke-linecap="butt" stroke-linejoin="round" stroke-dasharray="1.6 3.5"/>
<text x="643.90" y="251.82" font-family='"Liberation Sans", sans-serif' font-size="7.25" text-anchor="start" font-weight="normal" font-style="normal" fill="#000"><tspan font-style="italic">R</tspan><tspan font-size="5.2" dx="0.5" dy="-3.4">2</tspan><tspan dx="0.1" dy="3.4">=</tspan><tspan> 0.986</tspan></text>
<path d="M630.50 257.58L631.29 259.49L633.35 259.65L631.78 261.00L632.26 263.01L630.50 261.93L628.74 263.01L629.22 261.00L627.65 259.65L629.71 259.49Z" fill="none" stroke="#17becf" stroke-width="1.45" stroke-linejoin="round"/>
<text x="643.90" y="263.18" font-family='"Liberation Sans", sans-serif' font-size="7.00" text-anchor="start" font-weight="normal" font-style="normal" fill="#000">5 keV</text>
<path d="M623.6 271.94L636 271.94" fill="none" stroke="#17becf" stroke-width="1.90" stroke-linecap="butt" stroke-linejoin="round" stroke-dasharray="1.6 3.5"/>
<text x="643.90" y="274.54" font-family='"Liberation Sans", sans-serif' font-size="7.25" text-anchor="start" font-weight="normal" font-style="normal" fill="#000"><tspan font-style="italic">R</tspan><tspan font-size="5.2" dx="0.5" dy="-3.4">2</tspan><tspan dx="0.1" dy="3.4">=</tspan><tspan> 0.987</tspan></text>
</svg>
</body></html>
